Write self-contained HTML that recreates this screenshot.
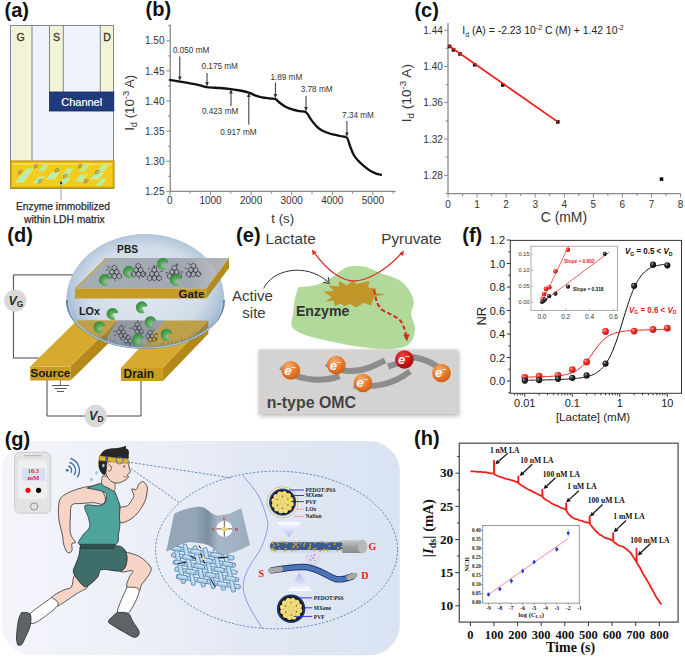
<!DOCTYPE html>
<html><head><meta charset="utf-8"><style>
html,body{margin:0;padding:0;background:#fff;}
svg{display:block;}
</style></head><body>
<svg width="685" height="657" viewBox="0 0 685 657" font-family="'Liberation Sans', sans-serif">
<rect width="685" height="657" fill="#fff"/>
<text x="4.5" y="16.9" font-size="20" fill="#111" text-anchor="start" font-weight="bold" font-family="'Liberation Sans', sans-serif" >(a)</text>
<rect x="10.5" y="25.5" width="103" height="163" fill="#f0f4fa" stroke="#7a8796" stroke-width="1"/>
<rect x="10.5" y="25.5" width="21.5" height="136" fill="#f3f4d4" stroke="#7a8796" stroke-width="1"/>
<rect x="49.5" y="25.5" width="13.8" height="67" fill="#f3f4d4" stroke="#7a8796" stroke-width="1"/>
<rect x="100.3" y="25.5" width="13.2" height="67" fill="#f3f4d4" stroke="#7a8796" stroke-width="1"/>
<rect x="49.5" y="92" width="64.3" height="19" fill="#1f3b7c" stroke="#13285a" stroke-width="0.8"/>
<text x="81.7" y="105.5" font-size="11" fill="#fff" text-anchor="middle" font-weight="normal" font-family="'Liberation Sans', sans-serif" stroke="#fff" stroke-width="0.2">Channel</text>
<text x="20.7" y="41.0" font-size="10.5" fill="#333" text-anchor="middle" font-weight="normal" font-family="'Liberation Sans', sans-serif" stroke="#333" stroke-width="0.3">G</text>
<text x="56.4" y="41.0" font-size="10.5" fill="#333" text-anchor="middle" font-weight="normal" font-family="'Liberation Sans', sans-serif" stroke="#333" stroke-width="0.3">S</text>
<text x="107.0" y="41.0" font-size="10.5" fill="#333" text-anchor="middle" font-weight="normal" font-family="'Liberation Sans', sans-serif" stroke="#333" stroke-width="0.3">D</text>
<rect x="10.4" y="160.9" width="103.7" height="27.3" fill="#d9ae06" stroke="#b08c10" stroke-width="0.8"/>
<rect x="12" y="162.8" width="100.5" height="23.6" fill="#f4cc1e"/>
<rect x="12" y="162.8" width="100.5" height="2" fill="#f8dc50"/>
<polygon points="15.0,182.5 21.0,175.5 29.0,175.5 23.0,182.5" fill="#c2f2b4"/><line x1="17.7" y1="182.5" x2="23.7" y2="175.5" stroke="#90d890" stroke-width="0.5"/><line x1="20.3" y1="182.5" x2="26.3" y2="175.5" stroke="#90d890" stroke-width="0.5"/><polygon points="21.0,175.5 27.0,168.5 34.0,168.5 28.0,175.5" fill="#c2f2b4"/><line x1="23.3" y1="175.5" x2="29.3" y2="168.5" stroke="#90d890" stroke-width="0.5"/><line x1="25.7" y1="175.5" x2="31.7" y2="168.5" stroke="#90d890" stroke-width="0.5"/><polygon points="33.0,183.5 39.0,176.5 45.0,176.5 39.0,183.5" fill="#c2f2b4"/><line x1="35.0" y1="183.5" x2="41.0" y2="176.5" stroke="#90d890" stroke-width="0.5"/><line x1="37.0" y1="183.5" x2="43.0" y2="176.5" stroke="#90d890" stroke-width="0.5"/><polygon points="38.0,171.5 44.0,164.5 49.0,164.5 43.0,171.5" fill="#c2f2b4"/><line x1="39.7" y1="171.5" x2="45.7" y2="164.5" stroke="#90d890" stroke-width="0.5"/><line x1="41.3" y1="171.5" x2="47.3" y2="164.5" stroke="#90d890" stroke-width="0.5"/><polygon points="46.0,179.5 52.0,172.5 60.0,172.5 54.0,179.5" fill="#c2f2b4"/><line x1="48.7" y1="179.5" x2="54.7" y2="172.5" stroke="#90d890" stroke-width="0.5"/><line x1="51.3" y1="179.5" x2="57.3" y2="172.5" stroke="#90d890" stroke-width="0.5"/><polygon points="58.0,184.5 64.0,177.5 71.0,177.5 65.0,184.5" fill="#c2f2b4"/><line x1="60.3" y1="184.5" x2="66.3" y2="177.5" stroke="#90d890" stroke-width="0.5"/><line x1="62.7" y1="184.5" x2="68.7" y2="177.5" stroke="#90d890" stroke-width="0.5"/><polygon points="62.0,175.5 68.0,168.5 74.0,168.5 68.0,175.5" fill="#c2f2b4"/><line x1="64.0" y1="175.5" x2="70.0" y2="168.5" stroke="#90d890" stroke-width="0.5"/><line x1="66.0" y1="175.5" x2="72.0" y2="168.5" stroke="#90d890" stroke-width="0.5"/><polygon points="75.0,181.5 81.0,174.5 88.0,174.5 82.0,181.5" fill="#c2f2b4"/><line x1="77.3" y1="181.5" x2="83.3" y2="174.5" stroke="#90d890" stroke-width="0.5"/><line x1="79.7" y1="181.5" x2="85.7" y2="174.5" stroke="#90d890" stroke-width="0.5"/><polygon points="79.0,171.5 85.0,164.5 90.0,164.5 84.0,171.5" fill="#c2f2b4"/><line x1="80.7" y1="171.5" x2="86.7" y2="164.5" stroke="#90d890" stroke-width="0.5"/><line x1="82.3" y1="171.5" x2="88.3" y2="164.5" stroke="#90d890" stroke-width="0.5"/><polygon points="90.0,179.5 96.0,172.5 104.0,172.5 98.0,179.5" fill="#c2f2b4"/><line x1="92.7" y1="179.5" x2="98.7" y2="172.5" stroke="#90d890" stroke-width="0.5"/><line x1="95.3" y1="179.5" x2="101.3" y2="172.5" stroke="#90d890" stroke-width="0.5"/><polygon points="97.0,171.5 103.0,164.5 109.0,164.5 103.0,171.5" fill="#c2f2b4"/><line x1="99.0" y1="171.5" x2="105.0" y2="164.5" stroke="#90d890" stroke-width="0.5"/><line x1="101.0" y1="171.5" x2="107.0" y2="164.5" stroke="#90d890" stroke-width="0.5"/><polygon points="96.0,185.5 102.0,178.5 107.0,178.5 101.0,185.5" fill="#c2f2b4"/><line x1="97.7" y1="185.5" x2="103.7" y2="178.5" stroke="#90d890" stroke-width="0.5"/><line x1="99.3" y1="185.5" x2="105.3" y2="178.5" stroke="#90d890" stroke-width="0.5"/>
<circle cx="20" cy="172" r="1.5" fill="none" stroke="#555" stroke-width="0.55"/><circle cx="21.5" cy="170.8" r="0.9" fill="#e8d070" stroke="#666" stroke-width="0.3"/><line x1="19" y1="173" x2="18" y2="175" stroke="#5a6a9a" stroke-width="0.6"/><circle cx="36" cy="166" r="1.5" fill="none" stroke="#555" stroke-width="0.55"/><circle cx="37.5" cy="164.8" r="0.9" fill="#e8d070" stroke="#666" stroke-width="0.3"/><line x1="35" y1="167" x2="34" y2="169" stroke="#5a6a9a" stroke-width="0.6"/><circle cx="40" cy="181" r="1.5" fill="none" stroke="#555" stroke-width="0.55"/><circle cx="41.5" cy="179.8" r="0.9" fill="#e8d070" stroke="#666" stroke-width="0.3"/><line x1="39" y1="182" x2="38" y2="184" stroke="#5a6a9a" stroke-width="0.6"/><circle cx="57" cy="170" r="1.5" fill="none" stroke="#555" stroke-width="0.55"/><circle cx="58.5" cy="168.8" r="0.9" fill="#e8d070" stroke="#666" stroke-width="0.3"/><line x1="56" y1="171" x2="55" y2="173" stroke="#5a6a9a" stroke-width="0.6"/><circle cx="65" cy="176" r="1.5" fill="none" stroke="#555" stroke-width="0.55"/><circle cx="66.5" cy="174.8" r="0.9" fill="#e8d070" stroke="#666" stroke-width="0.3"/><line x1="64" y1="177" x2="63" y2="179" stroke="#5a6a9a" stroke-width="0.6"/><circle cx="80" cy="166" r="1.5" fill="none" stroke="#555" stroke-width="0.55"/><circle cx="81.5" cy="164.8" r="0.9" fill="#e8d070" stroke="#666" stroke-width="0.3"/><line x1="79" y1="167" x2="78" y2="169" stroke="#5a6a9a" stroke-width="0.6"/><circle cx="86" cy="181" r="1.5" fill="none" stroke="#555" stroke-width="0.55"/><circle cx="87.5" cy="179.8" r="0.9" fill="#e8d070" stroke="#666" stroke-width="0.3"/><line x1="85" y1="182" x2="84" y2="184" stroke="#5a6a9a" stroke-width="0.6"/><circle cx="97" cy="172" r="1.5" fill="none" stroke="#555" stroke-width="0.55"/><circle cx="98.5" cy="170.8" r="0.9" fill="#e8d070" stroke="#666" stroke-width="0.3"/><line x1="96" y1="173" x2="95" y2="175" stroke="#5a6a9a" stroke-width="0.6"/>
<line x1="61.0" y1="182.0" x2="61.0" y2="200.0" stroke="#888" stroke-width="0.8" />
<polygon points="61.0,180.5 59.6,184.0 62.4,184.0" fill="#333" stroke="none" stroke-width="1" />
<text x="63.0" y="209.9" font-size="10.25" fill="#2a2a2a" text-anchor="middle" font-weight="normal" font-family="'Liberation Sans', sans-serif" stroke="#2a2a2a" stroke-width="0.25">Enzyme immobilized</text>
<text x="64.4" y="222.7" font-size="10.3" fill="#2a2a2a" text-anchor="middle" font-weight="normal" font-family="'Liberation Sans', sans-serif" stroke="#2a2a2a" stroke-width="0.25">within LDH matrix</text>
<text x="145.5" y="15.9" font-size="20" fill="#111" text-anchor="start" font-weight="bold" font-family="'Liberation Sans', sans-serif" >(b)</text>
<line x1="170.3" y1="24.5" x2="170.3" y2="191.3" stroke="#8a8a8a" stroke-width="1.3" />
<line x1="170.3" y1="191.3" x2="395.6" y2="191.3" stroke="#8a8a8a" stroke-width="1.3" />
<line x1="166.3" y1="191.3" x2="170.3" y2="191.3" stroke="#8a8a8a" stroke-width="1" />
<text x="164.5" y="194.9" font-size="10" fill="#333" text-anchor="end" font-weight="normal" font-family="'Liberation Sans', sans-serif" >1.25</text>
<line x1="167.8" y1="176.3" x2="170.3" y2="176.3" stroke="#8a8a8a" stroke-width="1" />
<line x1="166.3" y1="161.2" x2="170.3" y2="161.2" stroke="#8a8a8a" stroke-width="1" />
<text x="164.5" y="164.8" font-size="10" fill="#333" text-anchor="end" font-weight="normal" font-family="'Liberation Sans', sans-serif" >1.30</text>
<line x1="167.8" y1="146.2" x2="170.3" y2="146.2" stroke="#8a8a8a" stroke-width="1" />
<line x1="166.3" y1="131.1" x2="170.3" y2="131.1" stroke="#8a8a8a" stroke-width="1" />
<text x="164.5" y="134.7" font-size="10" fill="#333" text-anchor="end" font-weight="normal" font-family="'Liberation Sans', sans-serif" >1.35</text>
<line x1="167.8" y1="116.1" x2="170.3" y2="116.1" stroke="#8a8a8a" stroke-width="1" />
<line x1="166.3" y1="101.0" x2="170.3" y2="101.0" stroke="#8a8a8a" stroke-width="1" />
<text x="164.5" y="104.6" font-size="10" fill="#333" text-anchor="end" font-weight="normal" font-family="'Liberation Sans', sans-serif" >1.40</text>
<line x1="167.8" y1="86.0" x2="170.3" y2="86.0" stroke="#8a8a8a" stroke-width="1" />
<line x1="166.3" y1="70.9" x2="170.3" y2="70.9" stroke="#8a8a8a" stroke-width="1" />
<text x="164.5" y="74.5" font-size="10" fill="#333" text-anchor="end" font-weight="normal" font-family="'Liberation Sans', sans-serif" >1.45</text>
<line x1="167.8" y1="55.9" x2="170.3" y2="55.9" stroke="#8a8a8a" stroke-width="1" />
<line x1="166.3" y1="40.8" x2="170.3" y2="40.8" stroke="#8a8a8a" stroke-width="1" />
<text x="164.5" y="44.4" font-size="10" fill="#333" text-anchor="end" font-weight="normal" font-family="'Liberation Sans', sans-serif" >1.50</text>
<line x1="167.8" y1="25.8" x2="170.3" y2="25.8" stroke="#8a8a8a" stroke-width="1" />
<line x1="169.9" y1="191.3" x2="169.9" y2="195.3" stroke="#8a8a8a" stroke-width="1" />
<text x="169.9" y="204.3" font-size="10" fill="#333" text-anchor="middle" font-weight="normal" font-family="'Liberation Sans', sans-serif" >0</text>
<line x1="190.2" y1="191.3" x2="190.2" y2="193.8" stroke="#8a8a8a" stroke-width="1" />
<line x1="210.5" y1="191.3" x2="210.5" y2="195.3" stroke="#8a8a8a" stroke-width="1" />
<text x="210.5" y="204.3" font-size="10" fill="#333" text-anchor="middle" font-weight="normal" font-family="'Liberation Sans', sans-serif" >1000</text>
<line x1="230.8" y1="191.3" x2="230.8" y2="193.8" stroke="#8a8a8a" stroke-width="1" />
<line x1="251.1" y1="191.3" x2="251.1" y2="195.3" stroke="#8a8a8a" stroke-width="1" />
<text x="251.1" y="204.3" font-size="10" fill="#333" text-anchor="middle" font-weight="normal" font-family="'Liberation Sans', sans-serif" >2000</text>
<line x1="271.4" y1="191.3" x2="271.4" y2="193.8" stroke="#8a8a8a" stroke-width="1" />
<line x1="291.7" y1="191.3" x2="291.7" y2="195.3" stroke="#8a8a8a" stroke-width="1" />
<text x="291.7" y="204.3" font-size="10" fill="#333" text-anchor="middle" font-weight="normal" font-family="'Liberation Sans', sans-serif" >3000</text>
<line x1="312.0" y1="191.3" x2="312.0" y2="193.8" stroke="#8a8a8a" stroke-width="1" />
<line x1="332.3" y1="191.3" x2="332.3" y2="195.3" stroke="#8a8a8a" stroke-width="1" />
<text x="332.3" y="204.3" font-size="10" fill="#333" text-anchor="middle" font-weight="normal" font-family="'Liberation Sans', sans-serif" >4000</text>
<line x1="352.6" y1="191.3" x2="352.6" y2="193.8" stroke="#8a8a8a" stroke-width="1" />
<line x1="372.9" y1="191.3" x2="372.9" y2="195.3" stroke="#8a8a8a" stroke-width="1" />
<text x="372.9" y="204.3" font-size="10" fill="#333" text-anchor="middle" font-weight="normal" font-family="'Liberation Sans', sans-serif" >5000</text>
<line x1="393.2" y1="191.3" x2="393.2" y2="193.8" stroke="#8a8a8a" stroke-width="1" />
<text transform="translate(134,102.8) rotate(-90)" font-size="13.2" fill="#333" text-anchor="middle" font-family="'Liberation Sans', sans-serif">I<tspan font-size="9.4" dy="3">d</tspan><tspan dy="-3"> (10</tspan><tspan font-size="9.4" dy="-5">-3</tspan><tspan dy="5"> A)</tspan></text>
<text x="282.7" y="223.0" font-size="13.2" fill="#333" text-anchor="middle" font-weight="normal" font-family="'Liberation Sans', sans-serif" >t (s)</text>
<path d="M169.9,79.9 C171.6,80.2 176.5,81.0 179.8,81.6 C183.2,82.2 186.6,82.7 190.0,83.3 C193.4,83.9 197.2,84.6 200.0,85.3 C202.8,86.0 203.7,86.8 207.0,87.2 C210.3,87.7 216.0,87.7 220.0,88.0 C224.0,88.3 227.7,88.7 231.0,89.1 C234.3,89.5 237.0,89.9 240.0,90.5 C243.0,91.1 246.3,91.9 248.8,92.7 C251.3,93.5 252.8,94.5 255.0,95.3 C257.2,96.1 259.5,96.9 262.0,97.4 C264.5,97.9 267.8,98.2 270.0,98.5 C272.2,98.8 273.7,98.2 275.4,99.0 C277.1,99.8 278.2,101.7 280.0,103.0 C281.8,104.3 283.8,105.9 286.0,107.0 C288.2,108.1 290.7,109.0 293.0,109.7 C295.3,110.4 297.8,110.8 300.0,111.2 C302.2,111.6 304.3,111.1 306.0,112.2 C307.7,113.3 308.6,116.0 310.0,118.0 C311.4,120.0 312.9,122.2 314.5,124.0 C316.1,125.8 317.4,127.4 319.3,128.8 C321.2,130.2 323.8,131.4 326.0,132.3 C328.2,133.2 330.3,133.8 332.6,134.4 C334.9,135.0 337.6,135.4 340.0,136.0 C342.4,136.6 345.2,136.1 346.9,137.8 C348.6,139.5 348.9,143.2 350.0,146.0 C351.1,148.8 352.2,152.1 353.5,154.5 C354.8,156.9 356.1,158.4 358.0,160.5 C359.9,162.6 362.6,164.9 364.9,166.8 C367.2,168.7 369.8,170.6 372.0,171.8 C374.2,173.0 376.5,173.7 378.0,174.2 C379.5,174.7 380.5,174.7 381.0,174.8" fill="none" stroke="#111" stroke-width="2.3" stroke-linejoin="round" stroke-linecap="round"/>
<line x1="179.8" y1="56.5" x2="179.8" y2="78.0" stroke="#333" stroke-width="1" />
<polygon points="179.8,81.0 178.0,76.5 181.6,76.5" fill="#333" stroke="none" stroke-width="1" />
<line x1="207.0" y1="73.0" x2="207.0" y2="83.5" stroke="#333" stroke-width="1" />
<polygon points="207.0,86.5 205.2,82.0 208.8,82.0" fill="#333" stroke="none" stroke-width="1" />
<line x1="231.0" y1="106.0" x2="231.0" y2="92.0" stroke="#333" stroke-width="1" />
<polygon points="231.0,89.0 229.2,93.5 232.8,93.5" fill="#333" stroke="none" stroke-width="1" />
<line x1="248.8" y1="124.6" x2="248.8" y2="95.5" stroke="#333" stroke-width="1" />
<polygon points="248.8,92.5 247.0,97.0 250.6,97.0" fill="#333" stroke="none" stroke-width="1" />
<line x1="275.4" y1="82.5" x2="275.4" y2="95.5" stroke="#333" stroke-width="1" />
<polygon points="275.4,98.5 273.6,94.0 277.2,94.0" fill="#333" stroke="none" stroke-width="1" />
<line x1="306.0" y1="96.0" x2="306.0" y2="108.5" stroke="#333" stroke-width="1" />
<polygon points="306.0,111.5 304.2,107.0 307.8,107.0" fill="#333" stroke="none" stroke-width="1" />
<line x1="346.9" y1="121.0" x2="346.9" y2="134.0" stroke="#333" stroke-width="1" />
<polygon points="346.9,137.0 345.1,132.5 348.7,132.5" fill="#333" stroke="none" stroke-width="1" />
<text x="172.9" y="52.6" font-size="8.2" fill="#333" text-anchor="start" font-weight="normal" font-family="'Liberation Sans', sans-serif" >0.050 mM</text>
<text x="201.5" y="69.4" font-size="8.2" fill="#333" text-anchor="start" font-weight="normal" font-family="'Liberation Sans', sans-serif" >0.175 mM</text>
<text x="201.9" y="113.7" font-size="8.2" fill="#333" text-anchor="start" font-weight="normal" font-family="'Liberation Sans', sans-serif" >0.423 mM</text>
<text x="220.2" y="135.0" font-size="8.2" fill="#333" text-anchor="start" font-weight="normal" font-family="'Liberation Sans', sans-serif" >0.917 mM</text>
<text x="270.4" y="80.2" font-size="8.2" fill="#333" text-anchor="start" font-weight="normal" font-family="'Liberation Sans', sans-serif" >1.89 mM</text>
<text x="300.7" y="92.3" font-size="8.2" fill="#333" text-anchor="start" font-weight="normal" font-family="'Liberation Sans', sans-serif" >3.78 mM</text>
<text x="342.1" y="118.0" font-size="8.2" fill="#333" text-anchor="start" font-weight="normal" font-family="'Liberation Sans', sans-serif" >7.34 mM</text>
<text x="414.4" y="16.9" font-size="20" fill="#111" text-anchor="start" font-weight="bold" font-family="'Liberation Sans', sans-serif" >(c)</text>
<line x1="448.0" y1="23.0" x2="448.0" y2="193.6" stroke="#8a8a8a" stroke-width="1.3" />
<line x1="448.0" y1="193.6" x2="680.6" y2="193.6" stroke="#8a8a8a" stroke-width="1.3" />
<line x1="444.0" y1="30.2" x2="448.0" y2="30.2" stroke="#8a8a8a" stroke-width="1" />
<text x="442.8" y="33.8" font-size="10" fill="#333" text-anchor="end" font-weight="normal" font-family="'Liberation Sans', sans-serif" >1.44</text>
<line x1="444.0" y1="66.5" x2="448.0" y2="66.5" stroke="#8a8a8a" stroke-width="1" />
<text x="442.8" y="70.1" font-size="10" fill="#333" text-anchor="end" font-weight="normal" font-family="'Liberation Sans', sans-serif" >1.40</text>
<line x1="444.0" y1="102.7" x2="448.0" y2="102.7" stroke="#8a8a8a" stroke-width="1" />
<text x="442.8" y="106.3" font-size="10" fill="#333" text-anchor="end" font-weight="normal" font-family="'Liberation Sans', sans-serif" >1.36</text>
<line x1="444.0" y1="139.0" x2="448.0" y2="139.0" stroke="#8a8a8a" stroke-width="1" />
<text x="442.8" y="142.6" font-size="10" fill="#333" text-anchor="end" font-weight="normal" font-family="'Liberation Sans', sans-serif" >1.32</text>
<line x1="444.0" y1="175.3" x2="448.0" y2="175.3" stroke="#8a8a8a" stroke-width="1" />
<text x="442.8" y="178.9" font-size="10" fill="#333" text-anchor="end" font-weight="normal" font-family="'Liberation Sans', sans-serif" >1.28</text>
<line x1="445.5" y1="48.3" x2="448.0" y2="48.3" stroke="#8a8a8a" stroke-width="1" />
<line x1="445.5" y1="84.6" x2="448.0" y2="84.6" stroke="#8a8a8a" stroke-width="1" />
<line x1="445.5" y1="120.9" x2="448.0" y2="120.9" stroke="#8a8a8a" stroke-width="1" />
<line x1="445.5" y1="157.1" x2="448.0" y2="157.1" stroke="#8a8a8a" stroke-width="1" />
<line x1="445.5" y1="193.4" x2="448.0" y2="193.4" stroke="#8a8a8a" stroke-width="1" />
<line x1="448.0" y1="193.6" x2="448.0" y2="197.6" stroke="#8a8a8a" stroke-width="1" />
<text x="448.0" y="207.8" font-size="10" fill="#333" text-anchor="middle" font-weight="normal" font-family="'Liberation Sans', sans-serif" >0</text>
<line x1="462.5" y1="193.6" x2="462.5" y2="196.1" stroke="#8a8a8a" stroke-width="1" />
<line x1="477.1" y1="193.6" x2="477.1" y2="197.6" stroke="#8a8a8a" stroke-width="1" />
<text x="477.1" y="207.8" font-size="10" fill="#333" text-anchor="middle" font-weight="normal" font-family="'Liberation Sans', sans-serif" >1</text>
<line x1="491.6" y1="193.6" x2="491.6" y2="196.1" stroke="#8a8a8a" stroke-width="1" />
<line x1="506.1" y1="193.6" x2="506.1" y2="197.6" stroke="#8a8a8a" stroke-width="1" />
<text x="506.1" y="207.8" font-size="10" fill="#333" text-anchor="middle" font-weight="normal" font-family="'Liberation Sans', sans-serif" >2</text>
<line x1="520.7" y1="193.6" x2="520.7" y2="196.1" stroke="#8a8a8a" stroke-width="1" />
<line x1="535.2" y1="193.6" x2="535.2" y2="197.6" stroke="#8a8a8a" stroke-width="1" />
<text x="535.2" y="207.8" font-size="10" fill="#333" text-anchor="middle" font-weight="normal" font-family="'Liberation Sans', sans-serif" >3</text>
<line x1="549.7" y1="193.6" x2="549.7" y2="196.1" stroke="#8a8a8a" stroke-width="1" />
<line x1="564.3" y1="193.6" x2="564.3" y2="197.6" stroke="#8a8a8a" stroke-width="1" />
<text x="564.3" y="207.8" font-size="10" fill="#333" text-anchor="middle" font-weight="normal" font-family="'Liberation Sans', sans-serif" >4</text>
<line x1="578.8" y1="193.6" x2="578.8" y2="196.1" stroke="#8a8a8a" stroke-width="1" />
<line x1="593.4" y1="193.6" x2="593.4" y2="197.6" stroke="#8a8a8a" stroke-width="1" />
<text x="593.4" y="207.8" font-size="10" fill="#333" text-anchor="middle" font-weight="normal" font-family="'Liberation Sans', sans-serif" >5</text>
<line x1="607.9" y1="193.6" x2="607.9" y2="196.1" stroke="#8a8a8a" stroke-width="1" />
<line x1="622.4" y1="193.6" x2="622.4" y2="197.6" stroke="#8a8a8a" stroke-width="1" />
<text x="622.4" y="207.8" font-size="10" fill="#333" text-anchor="middle" font-weight="normal" font-family="'Liberation Sans', sans-serif" >6</text>
<line x1="637.0" y1="193.6" x2="637.0" y2="196.1" stroke="#8a8a8a" stroke-width="1" />
<line x1="651.5" y1="193.6" x2="651.5" y2="197.6" stroke="#8a8a8a" stroke-width="1" />
<text x="651.5" y="207.8" font-size="10" fill="#333" text-anchor="middle" font-weight="normal" font-family="'Liberation Sans', sans-serif" >7</text>
<line x1="666.0" y1="193.6" x2="666.0" y2="196.1" stroke="#8a8a8a" stroke-width="1" />
<line x1="680.6" y1="193.6" x2="680.6" y2="197.6" stroke="#8a8a8a" stroke-width="1" />
<text x="680.6" y="207.8" font-size="10" fill="#333" text-anchor="middle" font-weight="normal" font-family="'Liberation Sans', sans-serif" >8</text>
<text transform="translate(411,93.1) rotate(-90)" font-size="13.7" fill="#333" text-anchor="middle" font-family="'Liberation Sans', sans-serif">I<tspan font-size="9.8" dy="3">d</tspan><tspan dy="-3"> (10</tspan><tspan font-size="9.8" dy="-5.2">-3</tspan><tspan dy="5.2"> A)</tspan></text>
<text x="563.9" y="222.4" font-size="13.9" fill="#333" text-anchor="middle" font-weight="normal" font-family="'Liberation Sans', sans-serif" >C (mM)</text>
<text x="462.3" y="34.2" font-size="10.4" fill="#222" font-family="'Liberation Sans', sans-serif">I<tspan font-size="7" dy="2.5">d</tspan><tspan dy="-2.5"> (A) = -2.23 10</tspan><tspan font-size="7" dy="-4">-2</tspan><tspan dy="4"> C (M) + 1.42 10</tspan><tspan font-size="7" dy="-4">-2</tspan></text>
<rect x="447.8" y="44.6" width="3.6" height="3.6" fill="#111"/>
<rect x="451.7" y="48.1" width="3.6" height="3.6" fill="#111"/>
<rect x="458.2" y="52.1" width="3.6" height="3.6" fill="#111"/>
<rect x="472.9" y="63.0" width="3.6" height="3.6" fill="#111"/>
<rect x="501.0" y="83.2" width="3.6" height="3.6" fill="#111"/>
<rect x="556.0" y="120.1" width="3.6" height="3.6" fill="#111"/>
<rect x="659.7" y="177.3" width="3.6" height="3.6" fill="#111"/>
<line x1="448.5" y1="45.5" x2="557.8" y2="121.9" stroke="#ee1c18" stroke-width="1.7" />
<defs><radialGradient id="domeg" cx="0.5" cy="0.48" r="0.5"><stop offset="0" stop-color="#e2e9f1"/><stop offset="0.68" stop-color="#d2dde8"/><stop offset="0.88" stop-color="#b4c7db"/><stop offset="1" stop-color="#93aeca"/></radialGradient><linearGradient id="plate" x1="0" y1="0" x2="1" y2="0"><stop offset="0" stop-color="#9ca1a7"/><stop offset="0.75" stop-color="#979ca2"/><stop offset="0.88" stop-color="#adb0b3"/><stop offset="1" stop-color="#b5b7b9"/></linearGradient><radialGradient id="gpac" cx="0.6" cy="0.65" r="0.75"><stop offset="0" stop-color="#8fd08c"/><stop offset="0.45" stop-color="#55a85a"/><stop offset="1" stop-color="#2e7d3a"/></radialGradient><clipPath id="domeclip"><path d="M66.8,300 A78.6,65.5 0 0 1 224,300 A78.6,48 0 0 1 66.8,300 Z"/></clipPath></defs>
<text x="7.3" y="241.6" font-size="20" fill="#111" text-anchor="start" font-weight="bold" font-family="'Liberation Sans', sans-serif" >(d)</text>
<polyline points="89.0,274.9 13.4,274.9 13.4,358.0 38.6,358.0" fill="none" stroke="#444" stroke-width="1" stroke-linejoin="round" stroke-linecap="round" />
<polyline points="47.0,380.0 47.0,416.0 141.0,416.0 141.0,380.7" fill="none" stroke="#444" stroke-width="1" stroke-linejoin="round" stroke-linecap="round" />
<line x1="60.4" y1="380.0" x2="60.4" y2="385.5" stroke="#444" stroke-width="0.8" />
<line x1="52.0" y1="385.5" x2="69.0" y2="385.5" stroke="#444" stroke-width="0.9" />
<line x1="54.5" y1="388.5" x2="66.5" y2="388.5" stroke="#444" stroke-width="0.9" />
<line x1="57.0" y1="391.5" x2="64.0" y2="391.5" stroke="#444" stroke-width="0.9" />
<circle cx="15.3" cy="300.6" r="10.9" fill="#d9d9d9" stroke="#cfcfcf" stroke-width="0.5"/>
<text x="15.9" y="304.9" font-size="12.5" fill="#2a2a2a" text-anchor="middle" font-weight="bold" font-family="'Liberation Sans', sans-serif"><tspan font-style="italic">V</tspan><tspan font-size="8.5" dy="2">G</tspan></text>
<circle cx="95.7" cy="416" r="10.9" fill="#d9d9d9" stroke="#cfcfcf" stroke-width="0.5"/>
<text x="96.3" y="420.3" font-size="12.5" fill="#2a2a2a" text-anchor="middle" font-weight="bold" font-family="'Liberation Sans', sans-serif"><tspan font-style="italic">V</tspan><tspan font-size="8.5" dy="2">D</tspan></text>
<polygon points="30.2,366.6 70.5,366.6 117.5,320.3 77.2,320.3" fill="#d6aa2e" stroke="none" stroke-width="1" />
<polygon points="70.5,366.6 117.5,320.3 117.5,334.5 70.5,380.5" fill="#b3891a" stroke="none" stroke-width="1" />
<rect x="30.2" y="366.6" width="40.3" height="13.9" fill="#c99c22"/>
<polygon points="120.9,368.0 162.9,368.0 208.3,320.6 165.0,320.6" fill="#d6aa2e" stroke="none" stroke-width="1" />
<polygon points="162.9,368.0 208.3,320.6 208.3,333.8 162.9,381.0" fill="#b3891a" stroke="none" stroke-width="1" />
<rect x="120.9" y="368" width="42" height="13" fill="#c99c22"/>
<g clip-path="url(#domeclip)">
<rect x="60" y="230" width="170" height="125" fill="url(#domeg)" opacity="1"/>
<polygon points="40.0,360.0 80.0,360.0 117.5,320.3 77.2,320.3" fill="#bfa04a" stroke="none" stroke-width="1" />
<polygon points="80.0,360.0 117.5,320.3 117.5,334.5 90.0,360.0" fill="#a08433" stroke="none" stroke-width="1" />
<polygon points="130.0,360.0 172.0,360.0 208.3,320.6 165.0,320.6" fill="#bfa04a" stroke="none" stroke-width="1" />
<polygon points="172.0,360.0 208.3,320.6 208.3,333.8 180.0,360.0" fill="#a08433" stroke="none" stroke-width="1" />
<polygon points="117.5,320.3 165.0,320.6 140.0,350.0 100.0,350.0" fill="#949ba4" stroke="none" stroke-width="1" />
<polygon points="121.1,333.2 119.0,334.4 116.9,333.2 116.9,330.8 119.0,329.6 121.1,330.8" fill="none" stroke="#3a3f44" stroke-width="0.65"/><polygon points="125.2,333.2 123.2,334.4 121.1,333.2 121.1,330.8 123.2,329.6 125.2,330.8" fill="none" stroke="#3a3f44" stroke-width="0.65"/><polygon points="123.2,336.8 121.1,338.0 119.0,336.8 119.0,334.4 121.1,333.2 123.2,334.4" fill="none" stroke="#3a3f44" stroke-width="0.65"/><polygon points="127.3,336.8 125.2,338.0 123.2,336.8 123.2,334.4 125.2,333.2 127.3,334.4" fill="none" stroke="#3a3f44" stroke-width="0.65"/><polygon points="123.2,329.6 121.1,330.8 119.0,329.6 119.0,327.2 121.1,326.0 123.2,327.2" fill="none" stroke="#3a3f44" stroke-width="0.65"/><line x1="124.2" y1="327.4" x2="125.6" y2="325.4" stroke="#3a3f44" stroke-width="0.65"/><line x1="121.4" y1="326.5" x2="121.6" y2="324.1" stroke="#3a3f44" stroke-width="0.65"/><line x1="116.3" y1="334.6" x2="114.2" y2="335.8" stroke="#3a3f44" stroke-width="0.65"/><line x1="120.9" y1="337.5" x2="120.7" y2="339.9" stroke="#3a3f44" stroke-width="0.65"/><line x1="115.7" y1="331.6" x2="113.3" y2="331.4" stroke="#3a3f44" stroke-width="0.65"/>
<polygon points="137.1,329.2 135.0,330.4 132.9,329.2 132.9,326.8 135.0,325.6 137.1,326.8" fill="none" stroke="#3a3f44" stroke-width="0.65"/><polygon points="141.2,329.2 139.2,330.4 137.1,329.2 137.1,326.8 139.2,325.6 141.2,326.8" fill="none" stroke="#3a3f44" stroke-width="0.65"/><polygon points="139.2,332.8 137.1,334.0 135.0,332.8 135.0,330.4 137.1,329.2 139.2,330.4" fill="none" stroke="#3a3f44" stroke-width="0.65"/><polygon points="143.3,332.8 141.2,334.0 139.2,332.8 139.2,330.4 141.2,329.2 143.3,330.4" fill="none" stroke="#3a3f44" stroke-width="0.65"/><polygon points="139.2,325.6 137.1,326.8 135.0,325.6 135.0,323.2 137.1,322.0 139.2,323.2" fill="none" stroke="#3a3f44" stroke-width="0.65"/><line x1="140.8" y1="332.1" x2="142.4" y2="333.9" stroke="#3a3f44" stroke-width="0.65"/><line x1="140.3" y1="323.5" x2="141.7" y2="321.5" stroke="#3a3f44" stroke-width="0.65"/><line x1="137.6" y1="322.5" x2="137.8" y2="320.1" stroke="#3a3f44" stroke-width="0.65"/><line x1="137.0" y1="333.5" x2="136.9" y2="335.9" stroke="#3a3f44" stroke-width="0.65"/><line x1="131.6" y1="328.2" x2="129.2" y2="328.2" stroke="#3a3f44" stroke-width="0.65"/>
<polygon points="150.1,337.2 148.0,338.4 145.9,337.2 145.9,334.8 148.0,333.6 150.1,334.8" fill="none" stroke="#3a3f44" stroke-width="0.65"/><polygon points="154.2,337.2 152.2,338.4 150.1,337.2 150.1,334.8 152.2,333.6 154.2,334.8" fill="none" stroke="#3a3f44" stroke-width="0.65"/><polygon points="152.2,340.8 150.1,342.0 148.0,340.8 148.0,338.4 150.1,337.2 152.2,338.4" fill="none" stroke="#3a3f44" stroke-width="0.65"/><polygon points="156.3,340.8 154.2,342.0 152.2,340.8 152.2,338.4 154.2,337.2 156.3,338.4" fill="none" stroke="#3a3f44" stroke-width="0.65"/><polygon points="152.2,333.6 150.1,334.8 148.0,333.6 148.0,331.2 150.1,330.0 152.2,331.2" fill="none" stroke="#3a3f44" stroke-width="0.65"/><line x1="155.5" y1="334.5" x2="157.8" y2="333.8" stroke="#3a3f44" stroke-width="0.65"/><line x1="155.4" y1="334.2" x2="157.7" y2="333.4" stroke="#3a3f44" stroke-width="0.65"/><line x1="155.3" y1="337.9" x2="157.6" y2="338.8" stroke="#3a3f44" stroke-width="0.65"/><line x1="154.9" y1="338.8" x2="157.0" y2="340.0" stroke="#3a3f44" stroke-width="0.65"/><line x1="153.0" y1="331.3" x2="154.2" y2="329.2" stroke="#3a3f44" stroke-width="0.65"/>
<polygon points="128.1,342.2 126.0,343.4 123.9,342.2 123.9,339.8 126.0,338.6 128.1,339.8" fill="none" stroke="#3a3f44" stroke-width="0.65"/><polygon points="132.2,342.2 130.2,343.4 128.1,342.2 128.1,339.8 130.2,338.6 132.2,339.8" fill="none" stroke="#3a3f44" stroke-width="0.65"/><polygon points="130.2,345.8 128.1,347.0 126.0,345.8 126.0,343.4 128.1,342.2 130.2,343.4" fill="none" stroke="#3a3f44" stroke-width="0.65"/><polygon points="134.3,345.8 132.2,347.0 130.2,345.8 130.2,343.4 132.2,342.2 134.3,343.4" fill="none" stroke="#3a3f44" stroke-width="0.65"/><polygon points="130.2,338.6 128.1,339.8 126.0,338.6 126.0,336.2 128.1,335.0 130.2,336.2" fill="none" stroke="#3a3f44" stroke-width="0.65"/><line x1="128.6" y1="346.5" x2="128.8" y2="348.9" stroke="#3a3f44" stroke-width="0.65"/><line x1="122.9" y1="339.5" x2="120.5" y2="338.8" stroke="#3a3f44" stroke-width="0.65"/><line x1="124.4" y1="345.0" x2="122.7" y2="346.8" stroke="#3a3f44" stroke-width="0.65"/><line x1="123.8" y1="337.6" x2="121.9" y2="336.2" stroke="#3a3f44" stroke-width="0.65"/><line x1="124.3" y1="337.1" x2="122.6" y2="335.4" stroke="#3a3f44" stroke-width="0.65"/>
<line x1="100.0" y1="339.2" x2="99.9" y2="334.5" stroke="#4c6c8c" stroke-width="0.6" opacity="0.8"/><line x1="102.6" y1="340.3" x2="103.4" y2="335.9" stroke="#4c6c8c" stroke-width="0.6" opacity="0.8"/><line x1="105.2" y1="341.2" x2="105.2" y2="336.5" stroke="#4c6c8c" stroke-width="0.6" opacity="0.8"/><line x1="107.8" y1="342.2" x2="107.2" y2="337.6" stroke="#4c6c8c" stroke-width="0.6" opacity="0.8"/><line x1="110.4" y1="343.0" x2="110.7" y2="337.6" stroke="#4c6c8c" stroke-width="0.6" opacity="0.8"/><line x1="113.0" y1="343.7" x2="112.2" y2="339.8" stroke="#4c6c8c" stroke-width="0.6" opacity="0.8"/><line x1="115.6" y1="344.4" x2="114.8" y2="339.0" stroke="#4c6c8c" stroke-width="0.6" opacity="0.8"/><line x1="118.2" y1="345.0" x2="118.6" y2="341.9" stroke="#4c6c8c" stroke-width="0.6" opacity="0.8"/><line x1="120.8" y1="345.6" x2="121.8" y2="339.7" stroke="#4c6c8c" stroke-width="0.6" opacity="0.8"/><line x1="123.4" y1="346.1" x2="123.7" y2="341.2" stroke="#4c6c8c" stroke-width="0.6" opacity="0.8"/><line x1="126.0" y1="346.5" x2="125.3" y2="343.5" stroke="#4c6c8c" stroke-width="0.6" opacity="0.8"/><line x1="128.6" y1="346.9" x2="128.7" y2="343.7" stroke="#4c6c8c" stroke-width="0.6" opacity="0.8"/><line x1="131.2" y1="347.2" x2="130.6" y2="343.5" stroke="#4c6c8c" stroke-width="0.6" opacity="0.8"/><line x1="133.8" y1="347.5" x2="132.9" y2="343.1" stroke="#4c6c8c" stroke-width="0.6" opacity="0.8"/><line x1="136.4" y1="347.7" x2="136.3" y2="342.2" stroke="#4c6c8c" stroke-width="0.6" opacity="0.8"/><line x1="139.0" y1="347.8" x2="139.0" y2="342.9" stroke="#4c6c8c" stroke-width="0.6" opacity="0.8"/><line x1="141.6" y1="347.9" x2="141.6" y2="343.0" stroke="#4c6c8c" stroke-width="0.6" opacity="0.8"/><line x1="144.2" y1="348.0" x2="144.1" y2="344.2" stroke="#4c6c8c" stroke-width="0.6" opacity="0.8"/><line x1="146.8" y1="348.0" x2="147.8" y2="342.0" stroke="#4c6c8c" stroke-width="0.6" opacity="0.8"/><line x1="149.4" y1="347.9" x2="150.1" y2="342.8" stroke="#4c6c8c" stroke-width="0.6" opacity="0.8"/><line x1="152.0" y1="347.8" x2="151.6" y2="344.1" stroke="#4c6c8c" stroke-width="0.6" opacity="0.8"/><line x1="154.6" y1="347.7" x2="154.2" y2="344.5" stroke="#4c6c8c" stroke-width="0.6" opacity="0.8"/><line x1="157.2" y1="347.5" x2="157.7" y2="343.3" stroke="#4c6c8c" stroke-width="0.6" opacity="0.8"/><line x1="159.8" y1="347.2" x2="160.5" y2="343.0" stroke="#4c6c8c" stroke-width="0.6" opacity="0.8"/><line x1="162.4" y1="346.9" x2="163.3" y2="341.3" stroke="#4c6c8c" stroke-width="0.6" opacity="0.8"/><line x1="165.0" y1="346.5" x2="164.0" y2="342.9" stroke="#4c6c8c" stroke-width="0.6" opacity="0.8"/><line x1="167.6" y1="346.0" x2="168.4" y2="341.6" stroke="#4c6c8c" stroke-width="0.6" opacity="0.8"/><line x1="170.2" y1="345.5" x2="171.2" y2="341.4" stroke="#4c6c8c" stroke-width="0.6" opacity="0.8"/><line x1="172.8" y1="345.0" x2="171.9" y2="340.1" stroke="#4c6c8c" stroke-width="0.6" opacity="0.8"/><line x1="175.4" y1="344.4" x2="176.0" y2="340.6" stroke="#4c6c8c" stroke-width="0.6" opacity="0.8"/><line x1="178.0" y1="343.7" x2="177.2" y2="339.7" stroke="#4c6c8c" stroke-width="0.6" opacity="0.8"/><line x1="180.6" y1="342.9" x2="181.5" y2="337.6" stroke="#4c6c8c" stroke-width="0.6" opacity="0.8"/><line x1="183.2" y1="342.1" x2="182.4" y2="338.3" stroke="#4c6c8c" stroke-width="0.6" opacity="0.8"/><line x1="185.8" y1="341.2" x2="185.0" y2="338.0" stroke="#4c6c8c" stroke-width="0.6" opacity="0.8"/><line x1="188.4" y1="340.2" x2="189.0" y2="336.6" stroke="#4c6c8c" stroke-width="0.6" opacity="0.8"/><line x1="191.0" y1="339.1" x2="191.1" y2="334.8" stroke="#4c6c8c" stroke-width="0.6" opacity="0.8"/><line x1="193.6" y1="337.9" x2="193.0" y2="332.7" stroke="#4c6c8c" stroke-width="0.6" opacity="0.8"/><line x1="196.2" y1="336.6" x2="195.5" y2="331.7" stroke="#4c6c8c" stroke-width="0.6" opacity="0.8"/><line x1="198.8" y1="335.2" x2="198.0" y2="331.0" stroke="#4c6c8c" stroke-width="0.6" opacity="0.8"/><line x1="201.4" y1="333.7" x2="200.8" y2="329.9" stroke="#4c6c8c" stroke-width="0.6" opacity="0.8"/>
</g>
<path d="M66.8,300 A78.6,48 0 0 0 224,300" fill="none" stroke="#6486aa" stroke-width="2"/>
<path d="M69,303 A76.5,45 0 0 0 222,303" fill="none" stroke="#c4d4e4" stroke-width="1.2" opacity="0.8"/>
<path d="M66.8,300 A78.6,65.5 0 0 1 224,300" fill="none" stroke="#a8bdd2" stroke-width="0.8"/>
<polygon points="105.7,258.0 229.0,258.0 206.3,288.4 74.9,288.4" fill="url(#plate)" stroke="none" stroke-width="1" />
<polygon points="74.9,288.4 206.3,288.4 206.3,298.5 74.9,298.5" fill="#c69c24" stroke="none" stroke-width="1" />
<polygon points="206.3,288.4 229.0,258.0 229.0,268.0 206.3,298.5" fill="#b38c1c" stroke="none" stroke-width="1" />
<polygon points="74.9,288.4 105.7,258 107.5,258 77.5,288.4" fill="#c69c24"/>
<g clip-path="url(#domeclip)"><polygon points="105.7,258 229,258 206.3,288.4 74.9,288.4" fill="#c8d8ea" opacity="0.22"/></g>
<polygon points="114.3,273.4 112.0,274.7 109.7,273.4 109.7,270.6 112.0,269.3 114.3,270.6" fill="none" stroke="#33373b" stroke-width="0.7"/><polygon points="119.0,273.4 116.7,274.7 114.3,273.4 114.3,270.6 116.7,269.3 119.0,270.6" fill="none" stroke="#33373b" stroke-width="0.7"/><polygon points="116.7,277.4 114.3,278.8 112.0,277.4 112.0,274.7 114.3,273.4 116.7,274.7" fill="none" stroke="#33373b" stroke-width="0.7"/><polygon points="121.4,277.4 119.0,278.8 116.7,277.4 116.7,274.7 119.0,273.4 121.4,274.7" fill="none" stroke="#33373b" stroke-width="0.7"/><polygon points="116.7,269.3 114.3,270.6 112.0,269.3 112.0,266.6 114.3,265.2 116.7,266.6" fill="none" stroke="#33373b" stroke-width="0.7"/><polygon points="112.0,277.4 109.7,278.8 107.3,277.4 107.3,274.7 109.7,273.4 112.0,274.7" fill="none" stroke="#33373b" stroke-width="0.7"/><line x1="114.9" y1="278.2" x2="115.1" y2="280.9" stroke="#33373b" stroke-width="0.7"/><line x1="108.5" y1="270.3" x2="105.9" y2="269.6" stroke="#33373b" stroke-width="0.7"/><line x1="110.2" y1="276.5" x2="108.3" y2="278.5" stroke="#33373b" stroke-width="0.7"/><line x1="109.5" y1="268.2" x2="107.4" y2="266.6" stroke="#33373b" stroke-width="0.7"/><line x1="110.1" y1="267.6" x2="108.2" y2="265.7" stroke="#33373b" stroke-width="0.7"/>
<polygon points="138.3,271.4 136.0,272.7 133.7,271.4 133.7,268.6 136.0,267.3 138.3,268.6" fill="none" stroke="#33373b" stroke-width="0.7"/><polygon points="143.0,271.4 140.7,272.7 138.3,271.4 138.3,268.6 140.7,267.3 143.0,268.6" fill="none" stroke="#33373b" stroke-width="0.7"/><polygon points="140.7,275.4 138.3,276.8 136.0,275.4 136.0,272.7 138.3,271.4 140.7,272.7" fill="none" stroke="#33373b" stroke-width="0.7"/><polygon points="145.4,275.4 143.0,276.8 140.7,275.4 140.7,272.7 143.0,271.4 145.4,272.7" fill="none" stroke="#33373b" stroke-width="0.7"/><polygon points="140.7,267.3 138.3,268.6 136.0,267.3 136.0,264.6 138.3,263.2 140.7,264.6" fill="none" stroke="#33373b" stroke-width="0.7"/><polygon points="136.0,275.4 133.7,276.8 131.3,275.4 131.3,272.7 133.7,271.4 136.0,272.7" fill="none" stroke="#33373b" stroke-width="0.7"/><line x1="139.0" y1="276.2" x2="139.2" y2="278.9" stroke="#33373b" stroke-width="0.7"/><line x1="143.4" y1="273.7" x2="145.5" y2="275.4" stroke="#33373b" stroke-width="0.7"/><line x1="133.5" y1="273.8" x2="131.4" y2="275.4" stroke="#33373b" stroke-width="0.7"/><line x1="141.9" y1="275.1" x2="143.4" y2="277.4" stroke="#33373b" stroke-width="0.7"/><line x1="144.1" y1="272.5" x2="146.6" y2="273.6" stroke="#33373b" stroke-width="0.7"/>
<polygon points="154.3,275.4 152.0,276.7 149.7,275.4 149.7,272.6 152.0,271.3 154.3,272.6" fill="none" stroke="#33373b" stroke-width="0.7"/><polygon points="159.0,275.4 156.7,276.7 154.3,275.4 154.3,272.6 156.7,271.3 159.0,272.6" fill="none" stroke="#33373b" stroke-width="0.7"/><polygon points="156.7,279.4 154.3,280.8 152.0,279.4 152.0,276.7 154.3,275.4 156.7,276.7" fill="none" stroke="#33373b" stroke-width="0.7"/><polygon points="161.4,279.4 159.0,280.8 156.7,279.4 156.7,276.7 159.0,275.4 161.4,276.7" fill="none" stroke="#33373b" stroke-width="0.7"/><polygon points="156.7,271.3 154.3,272.6 152.0,271.3 152.0,268.6 154.3,267.2 156.7,268.6" fill="none" stroke="#33373b" stroke-width="0.7"/><polygon points="152.0,279.4 149.7,280.8 147.3,279.4 147.3,276.7 149.7,275.4 152.0,276.7" fill="none" stroke="#33373b" stroke-width="0.7"/><line x1="150.0" y1="269.7" x2="148.0" y2="267.8" stroke="#33373b" stroke-width="0.7"/><line x1="154.1" y1="267.8" x2="154.0" y2="265.1" stroke="#33373b" stroke-width="0.7"/><line x1="156.2" y1="268.0" x2="156.9" y2="265.4" stroke="#33373b" stroke-width="0.7"/><line x1="160.2" y1="271.8" x2="162.8" y2="270.8" stroke="#33373b" stroke-width="0.7"/><line x1="154.0" y1="267.8" x2="153.9" y2="265.1" stroke="#33373b" stroke-width="0.7"/>
<polygon points="174.3,273.4 172.0,274.7 169.7,273.4 169.7,270.6 172.0,269.3 174.3,270.6" fill="none" stroke="#33373b" stroke-width="0.7"/><polygon points="179.0,273.4 176.7,274.7 174.3,273.4 174.3,270.6 176.7,269.3 179.0,270.6" fill="none" stroke="#33373b" stroke-width="0.7"/><polygon points="176.7,277.4 174.3,278.8 172.0,277.4 172.0,274.7 174.3,273.4 176.7,274.7" fill="none" stroke="#33373b" stroke-width="0.7"/><polygon points="181.4,277.4 179.0,278.8 176.7,277.4 176.7,274.7 179.0,273.4 181.4,274.7" fill="none" stroke="#33373b" stroke-width="0.7"/><polygon points="176.7,269.3 174.3,270.6 172.0,269.3 172.0,266.6 174.3,265.2 176.7,266.6" fill="none" stroke="#33373b" stroke-width="0.7"/><polygon points="172.0,277.4 169.7,278.8 167.3,277.4 167.3,274.7 169.7,273.4 172.0,274.7" fill="none" stroke="#33373b" stroke-width="0.7"/><line x1="176.1" y1="266.0" x2="176.8" y2="263.4" stroke="#33373b" stroke-width="0.7"/><line x1="177.1" y1="266.4" x2="178.3" y2="264.0" stroke="#33373b" stroke-width="0.7"/><line x1="168.2" y1="272.6" x2="165.6" y2="272.8" stroke="#33373b" stroke-width="0.7"/><line x1="174.0" y1="278.2" x2="173.8" y2="280.9" stroke="#33373b" stroke-width="0.7"/><line x1="180.6" y1="272.0" x2="183.3" y2="272.0" stroke="#33373b" stroke-width="0.7"/>
<polygon points="193.3,271.4 191.0,272.7 188.7,271.4 188.7,268.6 191.0,267.3 193.3,268.6" fill="none" stroke="#33373b" stroke-width="0.7"/><polygon points="198.0,271.4 195.7,272.7 193.3,271.4 193.3,268.6 195.7,267.3 198.0,268.6" fill="none" stroke="#33373b" stroke-width="0.7"/><polygon points="195.7,275.4 193.3,276.8 191.0,275.4 191.0,272.7 193.3,271.4 195.7,272.7" fill="none" stroke="#33373b" stroke-width="0.7"/><polygon points="200.4,275.4 198.0,276.8 195.7,275.4 195.7,272.7 198.0,271.4 200.4,272.7" fill="none" stroke="#33373b" stroke-width="0.7"/><polygon points="195.7,267.3 193.3,268.6 191.0,267.3 191.0,264.6 193.3,263.2 195.7,264.6" fill="none" stroke="#33373b" stroke-width="0.7"/><polygon points="191.0,275.4 188.7,276.8 186.3,275.4 186.3,272.7 188.7,271.4 191.0,272.7" fill="none" stroke="#33373b" stroke-width="0.7"/><line x1="190.7" y1="275.6" x2="189.4" y2="278.0" stroke="#33373b" stroke-width="0.7"/><line x1="197.1" y1="275.0" x2="198.6" y2="277.2" stroke="#33373b" stroke-width="0.7"/><line x1="189.8" y1="265.0" x2="188.2" y2="262.8" stroke="#33373b" stroke-width="0.7"/><line x1="199.0" y1="272.7" x2="201.4" y2="273.9" stroke="#33373b" stroke-width="0.7"/><line x1="187.4" y1="268.6" x2="184.7" y2="268.0" stroke="#33373b" stroke-width="0.7"/>
<path d="M105.0,280.0 L110.8,278.7 A6,6 0 1 0 107.7,285.3 Z" fill="url(#gpac)"/>
<path d="M129.0,272.0 L134.8,270.7 A6,6 0 1 0 131.7,277.3 Z" fill="url(#gpac)"/>
<path d="M163.0,264.0 L168.8,262.7 A6,6 0 1 0 165.7,269.3 Z" fill="url(#gpac)"/>
<path d="M176.0,280.0 L181.8,278.7 A6,6 0 1 0 178.7,285.3 Z" fill="url(#gpac)"/>
<path d="M112.6,314.0 L118.4,312.7 A6,6 0 1 0 115.3,319.3 Z" fill="url(#gpac)"/>
<path d="M141.9,307.4 L147.7,306.1 A6,6 0 1 0 144.6,312.7 Z" fill="url(#gpac)"/>
<path d="M99.7,327.2 L105.5,325.9 A6,6 0 1 0 102.4,332.5 Z" fill="url(#gpac)"/>
<path d="M150.6,322.3 L156.4,321.0 A6,6 0 1 0 153.3,327.6 Z" fill="url(#gpac)"/>
<path d="M138.2,339.6 L144.0,338.3 A6,6 0 1 0 140.9,344.9 Z" fill="url(#gpac)"/>
<path d="M166.7,334.7 L172.5,333.4 A6,6 0 1 0 169.4,340.0 Z" fill="url(#gpac)"/>
<text x="117.1" y="252.9" font-size="10.2" fill="#222" text-anchor="start" font-weight="bold" font-family="'Liberation Sans', sans-serif" >PBS</text>
<text x="178.6" y="297.6" font-size="11.6" fill="#1a1a1a" text-anchor="start" font-weight="bold" font-family="'Liberation Sans', sans-serif" >Gate</text>
<text x="78.9" y="314.8" font-size="10.8" fill="#1a1a1a" text-anchor="start" font-weight="bold" font-family="'Liberation Sans', sans-serif" >LOx</text>
<text x="30.3" y="376.8" font-size="11.8" fill="#1a1a1a" text-anchor="start" font-weight="bold" font-family="'Liberation Sans', sans-serif" >Source</text>
<text x="123.6" y="378.0" font-size="11.9" fill="#1a1a1a" text-anchor="start" font-weight="bold" font-family="'Liberation Sans', sans-serif" >Drain</text>
<text x="236.1" y="241.9" font-size="20" fill="#111" text-anchor="start" font-weight="bold" font-family="'Liberation Sans', sans-serif" >(e)</text>
<text x="265.5" y="243.9" font-size="15.3" fill="#3a3a3a" text-anchor="start" font-weight="normal" font-family="'Liberation Sans', sans-serif" >Lactate</text>
<text x="381.2" y="243.9" font-size="15.3" fill="#3a3a3a" text-anchor="start" font-weight="normal" font-family="'Liberation Sans', sans-serif" >Pyruvate</text>
<defs><filter id="blr" x="-10%" y="-10%" width="120%" height="120%"><feGaussianBlur stdDeviation="2"/></filter><radialGradient id="eo" cx="0.4" cy="0.3" r="0.75"><stop offset="0" stop-color="#f8b070"/><stop offset="0.55" stop-color="#e67a2c"/><stop offset="1" stop-color="#c85c14"/></radialGradient><radialGradient id="er" cx="0.4" cy="0.3" r="0.75"><stop offset="0" stop-color="#f04040"/><stop offset="0.6" stop-color="#c81418"/><stop offset="1" stop-color="#980c10"/></radialGradient></defs>
<rect x="259.5" y="351" width="199.5" height="65" fill="#b9b6b6" filter="url(#blr)"/>
<rect x="258.5" y="349.5" width="199" height="64.5" fill="#d5d2d2"/>
<path d="M281.4,366.7 C292,378 318,384 339.5,376.1" fill="none" stroke="#8e8c8c" stroke-width="6" stroke-linecap="butt"/>
<path d="M326.9,363.5 C335,372 355,373 369.3,367.6 C377,364.5 382,362 385,360.4" fill="none" stroke="#8e8c8c" stroke-width="6" stroke-linecap="butt"/>
<path d="M388.1,366.7 L397.5,363.5" fill="none" stroke="#8e8c8c" stroke-width="6" stroke-linecap="butt"/>
<path d="M403.8,357.3 C415,356 430,360 441.5,369.8" fill="none" stroke="#8e8c8c" stroke-width="6" stroke-linecap="butt"/>
<path d="M353.6,385.5 C370,387 390,387 410.1,371.4" fill="none" stroke="#8e8c8c" stroke-width="6" stroke-linecap="butt"/>
<circle cx="290.8" cy="370.4" r="9.3" fill="url(#eo)"/>
<text x="290.2" y="374.8" font-size="13" fill="#fff" text-anchor="middle" font-style="italic" font-weight="bold" font-family="'Liberation Sans', sans-serif">e<tspan font-size="8" dy="-6" font-style="normal">–</tspan></text>
<circle cx="336.3" cy="365.1" r="9.3" fill="url(#eo)"/>
<text x="335.7" y="369.5" font-size="13" fill="#fff" text-anchor="middle" font-style="italic" font-weight="bold" font-family="'Liberation Sans', sans-serif">e<tspan font-size="8" dy="-6" font-style="normal">–</tspan></text>
<circle cx="363" cy="383" r="9.3" fill="url(#eo)"/>
<text x="362.4" y="387.4" font-size="13" fill="#fff" text-anchor="middle" font-style="italic" font-weight="bold" font-family="'Liberation Sans', sans-serif">e<tspan font-size="8" dy="-6" font-style="normal">–</tspan></text>
<circle cx="404.4" cy="359.5" r="9.3" fill="url(#er)"/>
<text x="403.8" y="363.9" font-size="13" fill="#fff" text-anchor="middle" font-style="italic" font-weight="bold" font-family="'Liberation Sans', sans-serif">e<tspan font-size="8" dy="-6" font-style="normal">–</tspan></text>
<circle cx="441.5" cy="373" r="9.3" fill="url(#eo)"/>
<text x="440.9" y="377.4" font-size="13" fill="#fff" text-anchor="middle" font-style="italic" font-weight="bold" font-family="'Liberation Sans', sans-serif">e<tspan font-size="8" dy="-6" font-style="normal">–</tspan></text>
<path d="M298.4,287.2 C301.5,286.8 311.4,286.4 317.0,284.7 C322.6,283.0 327.3,279.9 331.9,277.2 C336.4,274.5 340.6,270.4 344.3,268.5 C348.0,266.6 350.5,266.3 354.2,266.1 C357.9,265.9 362.1,266.1 366.7,267.3 C371.2,268.5 376.1,271.4 381.5,273.5 C386.9,275.6 394.3,277.0 398.9,279.7 C403.4,282.4 406.3,285.9 408.8,289.6 C411.3,293.3 413.4,297.9 413.8,302.0 C414.2,306.1 411.1,309.9 411.3,314.5 C411.5,319.1 415.4,324.4 415.0,329.4 C414.6,334.3 413.1,340.9 408.8,344.2 C404.5,347.5 397.3,348.8 389.0,349.2 C380.7,349.6 368.7,347.9 359.2,346.7 C349.7,345.5 340.6,343.6 331.9,341.8 C323.2,340.0 313.7,338.1 307.1,335.6 C300.5,333.1 294.5,330.8 292.2,326.9 C289.9,323.0 293.0,316.6 293.4,312.0 C293.8,307.4 293.9,303.7 294.7,299.6 C295.5,295.5 297.8,289.3 298.4,287.2 Z" fill="#b0d99a"/>
<polygon points="323.2,291.6 333.7,291.0 328.4,285.2 338.9,286.4 338.9,281.1 346.5,285.2 352.4,281.1 357.0,284.0 369.3,281.1 368.1,287.5 376.9,288.7 373.4,292.8 386.2,294.5 374.6,296.3 373.4,298.6 371.1,305.6 364.0,302.7 355.9,307.4 350.0,303.9 344.2,306.2 340.7,303.3 334.9,306.2 333.7,300.4 325.5,301.5 331.4,296.9" fill="#c0952a" stroke="none" stroke-width="1" />
<text x="295.9" y="315.7" font-size="14.2" fill="#333" text-anchor="start" font-weight="bold" font-family="'Liberation Sans', sans-serif" >Enzyme</text>
<text x="252.5" y="300.8" font-size="15" fill="#3a3a3a" text-anchor="middle" font-weight="normal" font-family="'Liberation Sans', sans-serif" >Active</text>
<text x="254.0" y="317.8" font-size="15" fill="#3a3a3a" text-anchor="middle" font-weight="normal" font-family="'Liberation Sans', sans-serif" >site</text>
<path d="M263.7,288.4 C272,270 305,262 327.5,281.5" fill="none" stroke="#333" stroke-width="1"/>
<polyline points="323.5,282.2 329.2,283.6 328.4,277.6" fill="none" stroke="#333" stroke-width="1" stroke-linejoin="round" stroke-linecap="round" />
<path d="M313.5,251.5 C330,275 345,281 354.2,281 C365,281 385,272 402.5,252.2" fill="none" stroke="#d8312c" stroke-width="1.3"/>
<polygon points="312.0,249.4 312.6,255.2 316.6,252.4" fill="#d8312c" stroke="none" stroke-width="1" />
<polygon points="403.9,250.4 399.2,253.6 403.2,256.0" fill="#d8312c" stroke="none" stroke-width="1" />
<path d="M374.1,289.6 C376,300 377,307 384,311 C392,315 399,318 401.4,322 C404,327 405.5,331 406.2,336" fill="none" stroke="#d42a26" stroke-width="2" stroke-dasharray="4.5,2.5"/>
<polygon points="406.9,341.5 403.2,334.5 409.6,334.3" fill="#d42a26" stroke="none" stroke-width="1" />
<text x="266.8" y="408.4" font-size="15.9" fill="#444" text-anchor="start" font-weight="bold" font-family="'Liberation Sans', sans-serif" >n-type OMC</text>
<text x="462.3" y="241.9" font-size="20" fill="#111" text-anchor="start" font-weight="bold" font-family="'Liberation Sans', sans-serif" >(f)</text>
<rect x="510.3" y="240.4" width="171.2" height="152.9" fill="none" stroke="#333" stroke-width="1"/>
<line x1="506.8" y1="381.0" x2="510.3" y2="381.0" stroke="#333" stroke-width="1" />
<text x="505.0" y="385.0" font-size="11" fill="#222" text-anchor="end" font-weight="normal" font-family="'Liberation Sans', sans-serif" >0.0</text>
<line x1="508.3" y1="369.2" x2="510.3" y2="369.2" stroke="#333" stroke-width="1" />
<line x1="506.8" y1="357.5" x2="510.3" y2="357.5" stroke="#333" stroke-width="1" />
<text x="505.0" y="361.5" font-size="11" fill="#222" text-anchor="end" font-weight="normal" font-family="'Liberation Sans', sans-serif" >0.2</text>
<line x1="508.3" y1="345.8" x2="510.3" y2="345.8" stroke="#333" stroke-width="1" />
<line x1="506.8" y1="334.0" x2="510.3" y2="334.0" stroke="#333" stroke-width="1" />
<text x="505.0" y="338.0" font-size="11" fill="#222" text-anchor="end" font-weight="normal" font-family="'Liberation Sans', sans-serif" >0.4</text>
<line x1="508.3" y1="322.2" x2="510.3" y2="322.2" stroke="#333" stroke-width="1" />
<line x1="506.8" y1="310.5" x2="510.3" y2="310.5" stroke="#333" stroke-width="1" />
<text x="505.0" y="314.5" font-size="11" fill="#222" text-anchor="end" font-weight="normal" font-family="'Liberation Sans', sans-serif" >0.6</text>
<line x1="508.3" y1="298.8" x2="510.3" y2="298.8" stroke="#333" stroke-width="1" />
<line x1="506.8" y1="287.0" x2="510.3" y2="287.0" stroke="#333" stroke-width="1" />
<text x="505.0" y="291.0" font-size="11" fill="#222" text-anchor="end" font-weight="normal" font-family="'Liberation Sans', sans-serif" >0.8</text>
<line x1="508.3" y1="275.2" x2="510.3" y2="275.2" stroke="#333" stroke-width="1" />
<line x1="506.8" y1="263.5" x2="510.3" y2="263.5" stroke="#333" stroke-width="1" />
<text x="505.0" y="267.5" font-size="11" fill="#222" text-anchor="end" font-weight="normal" font-family="'Liberation Sans', sans-serif" >1.0</text>
<line x1="508.3" y1="251.8" x2="510.3" y2="251.8" stroke="#333" stroke-width="1" />
<line x1="506.8" y1="240.0" x2="510.3" y2="240.0" stroke="#333" stroke-width="1" />
<text x="505.0" y="244.0" font-size="11" fill="#222" text-anchor="end" font-weight="normal" font-family="'Liberation Sans', sans-serif" >1.2</text>
<line x1="508.3" y1="392.8" x2="510.3" y2="392.8" stroke="#333" stroke-width="1" />
<line x1="524.8" y1="393.3" x2="524.8" y2="396.8" stroke="#333" stroke-width="1" />
<text x="524.8" y="406.5" font-size="11" fill="#222" text-anchor="middle" font-weight="normal" font-family="'Liberation Sans', sans-serif" >0.01</text>
<line x1="539.1" y1="393.3" x2="539.1" y2="395.3" stroke="#333" stroke-width="1" />
<line x1="547.5" y1="393.3" x2="547.5" y2="395.3" stroke="#333" stroke-width="1" />
<line x1="553.4" y1="393.3" x2="553.4" y2="395.3" stroke="#333" stroke-width="1" />
<line x1="558.0" y1="393.3" x2="558.0" y2="395.3" stroke="#333" stroke-width="1" />
<line x1="561.8" y1="393.3" x2="561.8" y2="395.3" stroke="#333" stroke-width="1" />
<line x1="564.9" y1="393.3" x2="564.9" y2="395.3" stroke="#333" stroke-width="1" />
<line x1="567.7" y1="393.3" x2="567.7" y2="395.3" stroke="#333" stroke-width="1" />
<line x1="570.1" y1="393.3" x2="570.1" y2="395.3" stroke="#333" stroke-width="1" />
<line x1="572.3" y1="393.3" x2="572.3" y2="396.8" stroke="#333" stroke-width="1" />
<text x="572.3" y="406.5" font-size="11" fill="#222" text-anchor="middle" font-weight="normal" font-family="'Liberation Sans', sans-serif" >0.1</text>
<line x1="586.6" y1="393.3" x2="586.6" y2="395.3" stroke="#333" stroke-width="1" />
<line x1="595.0" y1="393.3" x2="595.0" y2="395.3" stroke="#333" stroke-width="1" />
<line x1="600.9" y1="393.3" x2="600.9" y2="395.3" stroke="#333" stroke-width="1" />
<line x1="605.5" y1="393.3" x2="605.5" y2="395.3" stroke="#333" stroke-width="1" />
<line x1="609.3" y1="393.3" x2="609.3" y2="395.3" stroke="#333" stroke-width="1" />
<line x1="612.4" y1="393.3" x2="612.4" y2="395.3" stroke="#333" stroke-width="1" />
<line x1="615.2" y1="393.3" x2="615.2" y2="395.3" stroke="#333" stroke-width="1" />
<line x1="617.6" y1="393.3" x2="617.6" y2="395.3" stroke="#333" stroke-width="1" />
<line x1="619.8" y1="393.3" x2="619.8" y2="396.8" stroke="#333" stroke-width="1" />
<text x="619.8" y="406.5" font-size="11" fill="#222" text-anchor="middle" font-weight="normal" font-family="'Liberation Sans', sans-serif" >1</text>
<line x1="634.1" y1="393.3" x2="634.1" y2="395.3" stroke="#333" stroke-width="1" />
<line x1="642.5" y1="393.3" x2="642.5" y2="395.3" stroke="#333" stroke-width="1" />
<line x1="648.4" y1="393.3" x2="648.4" y2="395.3" stroke="#333" stroke-width="1" />
<line x1="653.0" y1="393.3" x2="653.0" y2="395.3" stroke="#333" stroke-width="1" />
<line x1="656.8" y1="393.3" x2="656.8" y2="395.3" stroke="#333" stroke-width="1" />
<line x1="659.9" y1="393.3" x2="659.9" y2="395.3" stroke="#333" stroke-width="1" />
<line x1="662.7" y1="393.3" x2="662.7" y2="395.3" stroke="#333" stroke-width="1" />
<line x1="665.1" y1="393.3" x2="665.1" y2="395.3" stroke="#333" stroke-width="1" />
<line x1="667.3" y1="393.3" x2="667.3" y2="396.8" stroke="#333" stroke-width="1" />
<text x="667.3" y="406.5" font-size="11" fill="#222" text-anchor="middle" font-weight="normal" font-family="'Liberation Sans', sans-serif" >10</text>
<line x1="514.3" y1="393.3" x2="514.3" y2="395.3" stroke="#333" stroke-width="1" />
<line x1="517.4" y1="393.3" x2="517.4" y2="395.3" stroke="#333" stroke-width="1" />
<line x1="520.2" y1="393.3" x2="520.2" y2="395.3" stroke="#333" stroke-width="1" />
<line x1="522.6" y1="393.3" x2="522.6" y2="395.3" stroke="#333" stroke-width="1" />
<text x="593.0" y="421.0" font-size="11.5" fill="#222" text-anchor="middle" font-weight="normal" font-family="'Liberation Sans', sans-serif" >[Lactate] (mM)</text>
<text transform="translate(485.6,316.2) rotate(-90)" font-size="13" fill="#222" text-anchor="middle" font-family="'Liberation Sans', sans-serif">NR</text>
<polyline points="524.8,380.2 526.0,380.2 527.2,380.2 528.4,380.2 529.6,380.2 530.8,380.2 532.0,380.2 533.2,380.1 534.4,380.1 535.6,380.1 536.8,380.1 538.0,380.1 539.2,380.1 540.4,380.0 541.6,380.0 542.8,380.0 544.0,380.0 545.2,379.9 546.4,379.9 547.6,379.9 548.7,379.9 549.9,379.8 551.1,379.8 552.3,379.8 553.5,379.7 554.7,379.7 555.9,379.6 557.1,379.6 558.3,379.6 559.5,379.5 560.7,379.5 561.9,379.4 563.1,379.3 564.3,379.3 565.5,379.2 566.7,379.1 567.9,379.1 569.1,379.0 570.3,378.9 571.5,378.8 572.7,378.7 573.9,378.6 575.1,378.5 576.3,378.4 577.5,378.2 578.7,378.1 579.9,377.9 581.1,377.8 582.3,377.6 583.5,377.4 584.7,377.1 585.9,376.9 587.1,376.6 588.3,376.3 589.5,375.9 590.7,375.5 591.9,375.1 593.1,374.6 594.3,374.0 595.5,373.4 596.6,372.7 597.8,371.9 599.0,371.0 600.2,370.0 601.4,368.9 602.6,367.7 603.8,366.4 605.0,364.8 606.2,363.1 607.4,361.3 608.6,359.2 609.8,357.0 611.0,354.5 612.2,351.9 613.4,349.0 614.6,345.9 615.8,342.7 617.0,339.2 618.2,335.6 619.4,331.9 620.6,328.0 621.8,324.1 623.0,320.2 624.2,316.2 625.4,312.3 626.6,308.5 627.8,304.8 629.0,301.2 630.2,297.7 631.4,294.5 632.6,291.5 633.8,288.6 635.0,286.0 636.2,283.6 637.4,281.4 638.6,279.4 639.8,277.6 641.0,276.0 642.2,274.5 643.4,273.2 644.5,272.0 645.7,271.0 646.9,270.1 648.1,269.3 649.3,268.5 650.5,267.9 651.7,267.4 652.9,266.9 654.1,266.4 655.3,266.1 656.5,265.7 657.7,265.5 658.9,265.2 660.1,265.0 661.3,264.8 662.5,264.6 663.7,264.5 664.9,264.4 666.1,264.2 667.3,264.1" fill="none" stroke="#111" stroke-width="1" stroke-linejoin="round" stroke-linecap="round" />
<polyline points="524.8,377.1 526.0,377.1 527.2,377.1 528.4,377.1 529.6,377.1 530.8,377.0 532.0,377.0 533.2,377.0 534.4,377.0 535.6,376.9 536.8,376.9 538.0,376.9 539.2,376.8 540.4,376.8 541.6,376.8 542.8,376.7 544.0,376.7 545.2,376.6 546.4,376.6 547.6,376.5 548.7,376.5 549.9,376.4 551.1,376.3 552.3,376.2 553.5,376.2 554.7,376.1 555.9,376.0 557.1,375.8 558.3,375.7 559.5,375.6 560.7,375.4 561.9,375.3 563.1,375.1 564.3,374.9 565.5,374.6 566.7,374.4 567.9,374.1 569.1,373.7 570.3,373.3 571.5,372.9 572.7,372.5 573.9,371.9 575.1,371.3 576.3,370.7 577.5,369.9 578.7,369.1 579.9,368.2 581.1,367.2 582.3,366.1 583.5,364.9 584.7,363.6 585.9,362.2 587.1,360.8 588.3,359.2 589.5,357.6 590.7,356.0 591.9,354.3 593.1,352.6 594.3,351.0 595.5,349.3 596.6,347.7 597.8,346.1 599.0,344.7 600.2,343.2 601.4,341.9 602.6,340.7 603.8,339.6 605.0,338.5 606.2,337.6 607.4,336.7 608.6,336.0 609.8,335.3 611.0,334.7 612.2,334.1 613.4,333.7 614.6,333.2 615.8,332.9 617.0,332.5 618.2,332.2 619.4,332.0 620.6,331.7 621.8,331.5 623.0,331.3 624.2,331.2 625.4,331.0 626.6,330.9 627.8,330.8 629.0,330.7 630.2,330.6 631.4,330.5 632.6,330.4 633.8,330.4 635.0,330.3 636.2,330.3 637.4,330.2 638.6,330.1 639.8,330.1 641.0,330.1 642.2,330.0 643.4,330.0 644.5,329.9 645.7,329.9 646.9,329.9 648.1,329.8 649.3,329.8 650.5,329.7 651.7,329.7 652.9,329.7 654.1,329.6 655.3,329.6 656.5,329.6 657.7,329.5 658.9,329.5 660.1,329.5 661.3,329.5 662.5,329.4 663.7,329.4 664.9,329.4 666.1,329.3 667.3,329.3" fill="none" stroke="#e8201c" stroke-width="1" stroke-linejoin="round" stroke-linecap="round" />
<defs><radialGradient id="gb" cx="0.35" cy="0.35" r="0.7"><stop offset="0" stop-color="#aaa"/><stop offset="0.35" stop-color="#333"/><stop offset="1" stop-color="#000"/></radialGradient><radialGradient id="gr" cx="0.35" cy="0.35" r="0.7"><stop offset="0" stop-color="#ffb0a8"/><stop offset="0.35" stop-color="#f03a2a"/><stop offset="1" stop-color="#c01010"/></radialGradient></defs>
<circle cx="524.8" cy="377.5" r="3.4" fill="url(#gr)"/>
<circle cx="539.1" cy="376.2" r="3.4" fill="url(#gr)"/>
<circle cx="558.0" cy="375.4" r="3.4" fill="url(#gr)"/>
<circle cx="572.3" cy="369.6" r="3.4" fill="url(#gr)"/>
<circle cx="586.6" cy="362.0" r="3.4" fill="url(#gr)"/>
<circle cx="605.5" cy="331.5" r="3.4" fill="url(#gr)"/>
<circle cx="634.1" cy="331.1" r="3.4" fill="url(#gr)"/>
<circle cx="653.0" cy="329.5" r="3.4" fill="url(#gr)"/>
<circle cx="667.3" cy="328.2" r="3.4" fill="url(#gr)"/>
<circle cx="524.8" cy="380.6" r="3.1" fill="url(#gb)"/>
<circle cx="539.1" cy="380.1" r="3.1" fill="url(#gb)"/>
<circle cx="558.0" cy="378.8" r="3.1" fill="url(#gb)"/>
<circle cx="572.3" cy="377.8" r="3.1" fill="url(#gb)"/>
<circle cx="586.6" cy="375.4" r="3.1" fill="url(#gb)"/>
<circle cx="605.5" cy="363.6" r="3.1" fill="url(#gb)"/>
<circle cx="634.1" cy="285.8" r="3.1" fill="url(#gb)"/>
<circle cx="653.0" cy="264.7" r="3.1" fill="url(#gb)"/>
<circle cx="667.3" cy="265.3" r="3.1" fill="url(#gb)"/>
<text x="625" y="254.3" font-size="8.6" font-weight="bold" fill="#111" font-family="'Liberation Sans', sans-serif" textLength="47.5" lengthAdjust="spacingAndGlyphs"><tspan font-style="italic">V</tspan><tspan font-size="5.6" dy="1.8">G</tspan><tspan dy="-1.8"> = 0.5 &lt; </tspan><tspan font-style="italic">V</tspan><tspan font-size="5.6" dy="1.8">D</tspan></text>
<text x="629" y="312.6" font-size="8.6" font-weight="bold" fill="#e8201c" font-family="'Liberation Sans', sans-serif" textLength="47.5" lengthAdjust="spacingAndGlyphs"><tspan font-style="italic">V</tspan><tspan font-size="5.6" dy="1.8">G</tspan><tspan dy="-1.8"> = 0.6 &lt; </tspan><tspan font-style="italic">V</tspan><tspan font-size="5.6" dy="1.8">D</tspan></text>
<rect x="531" y="246.2" width="86.5" height="64.30000000000001" fill="#fff" stroke="#999" stroke-width="0.8"/>
<line x1="531.0" y1="302.4" x2="533.0" y2="302.4" stroke="#888" stroke-width="0.6" />
<text x="529.5" y="304.4" font-size="5.6" fill="#333" text-anchor="end" font-weight="normal" font-family="'Liberation Sans', sans-serif" >0.00</text>
<line x1="531.0" y1="286.4" x2="533.0" y2="286.4" stroke="#888" stroke-width="0.6" />
<text x="529.5" y="288.4" font-size="5.6" fill="#333" text-anchor="end" font-weight="normal" font-family="'Liberation Sans', sans-serif" >0.05</text>
<line x1="531.0" y1="270.3" x2="533.0" y2="270.3" stroke="#888" stroke-width="0.6" />
<text x="529.5" y="272.3" font-size="5.6" fill="#333" text-anchor="end" font-weight="normal" font-family="'Liberation Sans', sans-serif" >0.10</text>
<line x1="531.0" y1="254.3" x2="533.0" y2="254.3" stroke="#888" stroke-width="0.6" />
<text x="529.5" y="256.3" font-size="5.6" fill="#333" text-anchor="end" font-weight="normal" font-family="'Liberation Sans', sans-serif" >0.15</text>
<line x1="541.9" y1="310.5" x2="541.9" y2="308.5" stroke="#888" stroke-width="0.6" />
<text x="541.9" y="318.6" font-size="6.5" fill="#333" text-anchor="middle" font-weight="normal" font-family="'Liberation Sans', sans-serif" >0.0</text>
<line x1="565.7" y1="310.5" x2="565.7" y2="308.5" stroke="#888" stroke-width="0.6" />
<text x="565.7" y="318.6" font-size="6.5" fill="#333" text-anchor="middle" font-weight="normal" font-family="'Liberation Sans', sans-serif" >0.2</text>
<line x1="589.6" y1="310.5" x2="589.6" y2="308.5" stroke="#888" stroke-width="0.6" />
<text x="589.6" y="318.6" font-size="6.5" fill="#333" text-anchor="middle" font-weight="normal" font-family="'Liberation Sans', sans-serif" >0.4</text>
<line x1="613.4" y1="310.5" x2="613.4" y2="308.5" stroke="#888" stroke-width="0.6" />
<text x="613.4" y="318.6" font-size="6.5" fill="#333" text-anchor="middle" font-weight="normal" font-family="'Liberation Sans', sans-serif" >0.6</text>
<line x1="541.9" y1="302.4" x2="568.5" y2="246.5" stroke="#e8201c" stroke-width="0.7" />
<line x1="541.9" y1="302.4" x2="609.4" y2="252.1" stroke="#e8201c" stroke-width="0.7" />
<circle cx="542.7" cy="298.9" r="2.3" fill="url(#gr)"/>
<circle cx="544" cy="294" r="2.3" fill="url(#gr)"/>
<circle cx="545.9" cy="288.9" r="2.3" fill="url(#gr)"/>
<circle cx="549.4" cy="287.3" r="2.3" fill="url(#gr)"/>
<circle cx="555.4" cy="271.3" r="2.3" fill="url(#gr)"/>
<circle cx="568" cy="249.7" r="2.3" fill="url(#gr)"/>
<circle cx="542" cy="302" r="2.1" fill="url(#gb)"/>
<circle cx="543.5" cy="301" r="2.1" fill="url(#gb)"/>
<circle cx="545" cy="299.5" r="2.1" fill="url(#gb)"/>
<circle cx="549.1" cy="296.2" r="2.1" fill="url(#gb)"/>
<circle cx="555.4" cy="293.7" r="2.1" fill="url(#gb)"/>
<circle cx="568" cy="286.7" r="2.1" fill="url(#gb)"/>
<circle cx="604.8" cy="253.8" r="2.1" fill="url(#gb)"/>
<text x="564.0" y="263.0" font-size="4.8" fill="#e8201c" text-anchor="start" font-weight="bold" font-family="'Liberation Sans', sans-serif" >Slope = 0.802</text>
<text x="573.0" y="290.8" font-size="4.8" fill="#111" text-anchor="start" font-weight="bold" font-family="'Liberation Sans', sans-serif" >Slope = 0.318</text>
<defs><linearGradient id="gbg" x1="0" y1="0" x2="1" y2="0"><stop offset="0" stop-color="#f4f5fb"/><stop offset="0.3" stop-color="#eef0f8"/><stop offset="0.6" stop-color="#e3e9f4"/><stop offset="1" stop-color="#d9e3f2"/></linearGradient><linearGradient id="tri1" x1="0" y1="0" x2="0" y2="1"><stop offset="0" stop-color="#ffffff"/><stop offset="1" stop-color="#b8bdf0"/></linearGradient><linearGradient id="tri2" x1="0" y1="1" x2="0" y2="0"><stop offset="0" stop-color="#ffffff"/><stop offset="1" stop-color="#b0b6ee"/></linearGradient><linearGradient id="cap" x1="0" y1="0" x2="0" y2="1"><stop offset="0" stop-color="#c8c8c8"/><stop offset="0.5" stop-color="#a0a0a0"/><stop offset="1" stop-color="#8a8a8a"/></linearGradient><linearGradient id="sheet" x1="0" y1="0" x2="1" y2="0"><stop offset="0" stop-color="#95a7b9"/><stop offset="0.35" stop-color="#93a5b8"/><stop offset="0.5" stop-color="#7a8da2"/><stop offset="0.62" stop-color="#a7b7c7"/><stop offset="1" stop-color="#9cadbf"/></linearGradient></defs>
<rect x="2" y="441" width="397.8" height="214.2" rx="31" ry="30" fill="url(#gbg)"/>
<text x="4.7" y="445.7" font-size="20" fill="#111" text-anchor="start" font-weight="bold" font-family="'Liberation Sans', sans-serif" >(g)</text>
<rect x="14.6" y="452.3" width="36.2" height="60.9" rx="5" fill="#e3e3e6" stroke="#c4c4c8" stroke-width="0.8"/>
<rect x="18.3" y="459.6" width="28.8" height="39.6" rx="3" fill="#efeff1"/>
<line x1="24.0" y1="455.7" x2="41.1" y2="455.7" stroke="#aaa" stroke-width="0.9" />
<rect x="21.6" y="468.1" width="23.7" height="12.8" fill="#d5e1f3"/>
<text x="33.4" y="473.0" font-size="6.6" fill="#e02828" text-anchor="middle" font-weight="bold" font-family="'Liberation Serif', serif" >10.3</text>
<text x="33.4" y="480.3" font-size="6.6" fill="#e02828" text-anchor="middle" font-weight="bold" font-family="'Liberation Serif', serif" >mM</text>
<circle cx="28" cy="490.3" r="2.6" fill="#f01010"/><circle cx="38.6" cy="490.3" r="2.6" fill="#000"/>
<circle cx="34.1" cy="506.5" r="3.6" fill="none" stroke="#555" stroke-width="0.6"/>
<circle cx="67.2" cy="470.3" r="1.4" fill="#3d6e9e"/>
<path d="M68.3,466.0 A4.4,4.4 0 0 1 70.8,472.8" fill="none" stroke="#3d6e9e" stroke-width="1.3"/>
<path d="M69.3,462.3 A8.3,8.3 0 0 1 74.0,475.1" fill="none" stroke="#3d6e9e" stroke-width="1.3"/>
<path d="M70.4,458.5 A12.2,12.2 0 0 1 77.2,477.3" fill="none" stroke="#3d6e9e" stroke-width="1.3"/>
<ellipse cx="276.5" cy="550" rx="121" ry="78.8" fill="none" stroke="#4a6ea8" stroke-width="0.8" stroke-dasharray="2.2,1.6"/>
<line x1="127.5" y1="461.9" x2="231.0" y2="477.8" stroke="#4a6ea8" stroke-width="0.8" stroke-dasharray="2.2,1.6"/>
<line x1="127.5" y1="466.2" x2="180.0" y2="503.0" stroke="#4a6ea8" stroke-width="0.8" stroke-dasharray="2.2,1.6"/>
<path d="M243.1,475.5 C245.7,478.9 254.7,489.1 258.6,496.0 C262.5,502.9 264.9,511.4 266.4,516.7 C267.9,522.0 268.4,522.8 267.5,528.0 C266.6,533.2 264.4,541.1 261.2,547.8 C258.0,554.5 251.3,561.9 248.3,568.4 C245.3,574.9 243.1,580.5 243.1,586.5 C243.1,592.5 245.3,597.9 248.3,604.6 C251.3,611.3 258.8,622.6 261.2,626.6 C263.6,630.6 262.7,628.2 263.0,628.5" fill="none" stroke="#6b74e6" stroke-width="0.7"/>
<path d="M75.7,575.0 C77.7,576.8 87.5,582.9 87.7,586.0 C87.9,589.1 81.3,590.5 76.8,593.6 C72.2,596.7 63.7,602.6 60.4,604.6 C57.1,606.6 58.6,606.8 57.1,605.7 C55.6,604.6 50.7,600.5 51.6,598.0 C52.5,595.5 59.3,592.2 62.6,590.4 C65.9,588.6 69.5,589.3 71.3,587.1 C73.1,584.9 72.8,579.2 73.5,577.2 C74.2,575.2 75.3,575.4 75.7,575.0 Z" fill="#f6d4c6" stroke="#1a1a1a" stroke-width="0.7" stroke-linejoin="round"/>
<path d="M51.6,597.5 C52.6,598.8 60.5,601.2 57.6,605.5 C54.7,609.8 38.9,621.5 34.1,623.2 C29.3,624.9 25.7,619.8 28.6,615.5 C31.5,611.2 47.8,600.5 51.6,597.5 Z" fill="#ffffff" stroke="#1a1a1a" stroke-width="0.7" stroke-linejoin="round"/>
<path d="M21.5,612.5 C22.8,612.7 27.9,612.2 29.5,613.5 C31.1,614.8 31.0,617.6 31.0,620.0 C31.0,622.4 30.4,625.2 29.5,628.0 C28.6,630.8 26.8,634.3 25.5,637.0 C24.2,639.7 23.2,642.7 22.0,644.0 C20.8,645.3 18.9,646.0 18.0,645.0 C17.1,644.0 16.6,641.2 16.5,638.0 C16.4,634.8 17.1,629.3 17.5,626.0 C17.9,622.7 18.3,620.2 19.0,618.0 C19.7,615.8 21.1,613.4 21.5,612.5 Z" fill="#5d6366" stroke="#1a1a1a" stroke-width="0.7" stroke-linejoin="round"/>
<path d="M93.8,486.0 C95.0,486.6 99.1,487.5 101.1,489.6 C103.0,491.7 105.2,496.0 105.5,498.4 C105.8,500.8 104.5,503.5 102.6,504.2 C100.6,504.9 97.2,502.8 93.8,502.7 C90.4,502.6 85.8,503.1 82.1,503.5 C78.4,503.9 73.9,502.8 71.9,504.9 C70.0,507.0 70.7,511.1 70.4,515.9 C70.2,520.6 69.6,529.0 70.4,533.4 C71.2,537.8 75.2,540.5 75.5,542.2 C75.8,543.9 72.5,542.2 71.9,543.6 C71.3,545.0 72.6,549.4 71.9,550.9 C71.2,552.4 68.8,553.4 67.5,552.4 C66.2,551.4 64.8,548.0 63.9,545.1 C63.0,542.2 63.2,539.3 62.4,534.9 C61.5,530.5 59.4,523.9 58.8,518.8 C58.2,513.7 58.3,507.8 58.8,504.2 C59.3,500.6 59.5,499.1 61.7,496.9 C63.9,494.7 68.2,492.7 71.9,491.1 C75.6,489.5 79.9,488.2 83.6,487.4 C87.2,486.5 92.1,486.2 93.8,486.0 Z" fill="#f6d4c6" stroke="#1a1a1a" stroke-width="0.7" stroke-linejoin="round"/>
<path d="M122.0,551.0 C124.9,551.9 134.5,553.9 139.2,556.4 C143.9,558.9 148.3,563.6 150.1,566.3 C151.9,569.0 151.5,569.7 150.1,572.8 C148.7,575.9 143.2,582.0 141.4,584.9 C139.6,587.8 141.6,590.0 139.2,590.4 C136.8,590.8 128.8,589.3 127.1,587.1 C125.5,584.9 128.4,579.9 129.3,577.2 C130.2,574.5 134.2,571.8 132.6,570.7 C131.0,569.6 121.3,574.0 119.5,570.7 C117.7,567.4 121.6,554.3 122.0,551.0 Z" fill="#f6d4c6" stroke="#1a1a1a" stroke-width="0.7" stroke-linejoin="round"/>
<path d="M127.1,587.1 C129.1,587.6 139.0,586.0 139.2,590.4 C139.4,594.8 131.8,609.8 128.2,613.4 C124.5,617.0 117.5,616.7 117.3,612.3 C117.1,607.9 125.5,591.3 127.1,587.1 Z" fill="#ffffff" stroke="#1a1a1a" stroke-width="0.7" stroke-linejoin="round"/>
<path d="M117.3,612.3 C119.1,612.5 125.6,611.9 128.2,613.4 C130.8,614.9 130.8,617.9 132.6,621.0 C134.4,624.1 138.8,629.3 139.2,632.0 C139.6,634.7 137.4,637.4 134.8,637.4 C132.2,637.4 127.6,634.0 123.9,632.0 C120.2,630.0 115.5,627.2 112.9,625.4 C110.3,623.6 107.8,623.2 108.5,621.0 C109.2,618.8 115.8,613.8 117.3,612.3 Z" fill="#5d6366" stroke="#1a1a1a" stroke-width="0.7" stroke-linejoin="round"/>
<path d="M80.1,546.6 C85.6,546.4 105.6,545.1 112.9,545.5 C120.2,545.9 121.5,546.4 123.9,548.8 C126.3,551.2 127.5,556.1 127.1,559.7 C126.7,563.4 125.9,569.1 121.7,570.7 C117.5,572.4 106.0,568.5 102.0,569.6 C98.0,570.7 100.0,574.5 97.6,577.2 C95.2,579.9 90.2,584.7 87.7,586.0 C85.2,587.3 84.7,587.1 82.3,584.9 C79.9,582.7 74.6,576.3 73.5,572.8 C72.4,569.3 74.8,567.0 75.7,564.1 C76.6,561.2 78.3,558.2 79.0,555.3 C79.7,552.4 79.9,548.0 80.1,546.6 Z" fill="#3f6e6a" stroke="#1a1a1a" stroke-width="0.7" stroke-linejoin="round"/>
<path d="M87.2,488.1 C88.8,487.5 94.3,485.2 96.7,484.5 C99.1,483.8 99.8,483.2 101.8,483.8 C103.8,484.4 106.3,486.9 108.4,488.1 C110.5,489.3 112.6,489.2 114.2,491.1 C115.8,493.1 116.9,497.1 117.9,499.8 C118.9,502.5 119.7,503.5 120.1,507.1 C120.5,510.8 120.3,517.3 120.1,521.7 C119.8,526.1 119.6,529.5 118.6,533.4 C117.6,537.3 120.5,543.1 114.2,545.1 C107.9,547.1 86.1,546.6 80.7,545.1 C75.3,543.6 80.6,539.2 82.1,536.3 C83.5,533.4 88.3,530.5 89.4,527.6 C90.5,524.7 89.4,522.4 88.7,518.8 C88.0,515.1 83.2,507.9 85.0,505.7 C86.8,503.5 96.2,506.4 99.6,505.7 C103.0,505.0 104.7,503.5 105.5,501.3 C106.3,499.1 107.8,494.7 104.7,492.5 C101.7,490.3 90.1,488.8 87.2,488.1 Z" fill="#4ea39b" stroke="#1a1a1a" stroke-width="0.7" stroke-linejoin="round"/>
<path d="M80.5,544.2 L114.5,544.2 L114,548.4 L80.2,548.6 Z" fill="#2d524e" stroke="#1a1a1a" stroke-width="0.4"/>
<path d="M120.1,507.1 C121.3,506.9 125.5,506.9 127.4,505.7 C129.4,504.5 130.7,501.7 131.8,500.0 C132.9,498.3 133.9,497.2 133.9,495.4 C133.9,493.5 131.4,489.9 131.8,488.9 C132.2,487.9 134.9,490.5 136.1,489.6 C137.3,488.8 137.9,485.1 139.1,483.8 C140.3,482.5 142.1,481.1 143.4,481.6 C144.7,482.1 146.5,485.0 147.1,486.7 C147.7,488.4 147.5,489.6 147.1,492.0 C146.7,494.4 146.5,497.8 144.9,501.3 C143.3,504.8 140.3,509.8 137.6,513.0 C134.9,516.2 131.7,518.8 128.8,520.3 C125.9,521.8 121.5,523.9 120.1,521.7 C118.6,519.5 120.1,509.5 120.1,507.1 Z" fill="#f6d4c6" stroke="#1a1a1a" stroke-width="0.7" stroke-linejoin="round"/>
<path d="M102.5,476.0 C104.3,476.3 111.5,475.6 113.5,478.0 C115.5,480.4 115.3,488.8 114.5,490.5 C113.7,492.2 110.5,489.2 108.4,488.1 C106.3,487.0 102.8,486.0 101.8,484.0 C100.8,482.0 102.4,477.3 102.5,476.0 Z" fill="#f6d4c6" stroke="#1a1a1a" stroke-width="0.6" stroke-linejoin="round"/>
<path d="M105.0,466.0 C105.8,465.2 106.2,462.4 110.0,461.5 C113.8,460.6 124.4,460.1 127.5,460.8 C130.6,461.6 128.2,464.1 128.7,466.0 C129.1,467.9 130.4,470.6 130.2,472.0 C130.0,473.4 127.9,473.3 127.6,474.2 C127.3,475.1 128.6,476.2 128.2,477.2 C127.8,478.2 126.7,479.2 125.0,480.2 C123.3,481.2 120.2,482.8 118.0,483.0 C115.8,483.2 113.4,482.8 111.5,481.5 C109.6,480.2 107.6,477.6 106.5,475.0 C105.4,472.4 105.2,467.5 105.0,466.0 Z" fill="#f6d4c6" stroke="#1a1a1a" stroke-width="0.7" stroke-linejoin="round"/>
<path d="M98.6,466.5 C97.8,458 101,451.5 106,449.6 C110,448 115,448.6 119,447.8 C122,447.2 124.5,446.4 126.2,445.8 L125.8,448.6 C127.4,448.6 128.6,449.6 128.9,451.5 L128.6,458.8 L111,458 C108,459 106.6,461.5 106.8,465 C107.2,469.5 106.4,473 104.5,475.6 C101.5,474 99.2,470.5 98.6,466.5 Z" fill="#262626"/>
<path d="M108.5,465 C111.5,464.5 112.3,468.5 110.6,470.6 C109.6,471.8 108.4,471.4 108,470.4" fill="#f6d4c6" stroke="#1a1a1a" stroke-width="0.6"/>
<ellipse cx="124.2" cy="466.5" rx="0.7" ry="1" fill="#1a1a1a"/>
<path d="M123.2,476 C124.5,477.2 126.2,477.2 127.6,476.2" fill="none" stroke="#1a1a1a" stroke-width="0.5"/>
<path d="M99.2,455.8 L128.2,459.2 L128,463.6 L99.4,460.6 Z" fill="#d8b52a" stroke="#8a7010" stroke-width="0.4"/>
<rect x="105.4" y="456.4" width="2.6" height="4.8" fill="#2f5aa0"/>
<circle cx="119.6" cy="460.4" r="3.6" fill="none" stroke="#3a64b0" stroke-width="0.8"/>
<ellipse cx="103.4" cy="465.6" rx="1.3" ry="1.8" fill="#8ec8ee"/>
<ellipse cx="96.5" cy="472.8" rx="1.3" ry="1.8" fill="#8ec8ee"/>
<ellipse cx="91.5" cy="479.6" rx="1.3" ry="1.8" fill="#8ec8ee"/>
<line x1="172.0" y1="547.8" x2="232.0" y2="558.0" stroke="#5d89b0" stroke-width="5" stroke-linecap="round"/><line x1="172.0" y1="547.8" x2="232.0" y2="558.0" stroke="#a9cde8" stroke-width="3.6" stroke-linecap="round"/><line x1="172.0" y1="547.0" x2="232.0" y2="557.2" stroke="#dcedf8" stroke-width="0.9" stroke-linecap="round"/><line x1="173.6" y1="555.0" x2="233.6" y2="565.2" stroke="#5d89b0" stroke-width="5" stroke-linecap="round"/><line x1="173.6" y1="555.0" x2="233.6" y2="565.2" stroke="#a9cde8" stroke-width="3.6" stroke-linecap="round"/><line x1="173.6" y1="554.2" x2="233.6" y2="564.4" stroke="#dcedf8" stroke-width="0.9" stroke-linecap="round"/><line x1="175.2" y1="562.2" x2="235.2" y2="572.4" stroke="#5d89b0" stroke-width="5" stroke-linecap="round"/><line x1="175.2" y1="562.2" x2="235.2" y2="572.4" stroke="#a9cde8" stroke-width="3.6" stroke-linecap="round"/><line x1="175.2" y1="561.4" x2="235.2" y2="571.6" stroke="#dcedf8" stroke-width="0.9" stroke-linecap="round"/><line x1="176.8" y1="569.4" x2="236.8" y2="579.6" stroke="#5d89b0" stroke-width="5" stroke-linecap="round"/><line x1="176.8" y1="569.4" x2="236.8" y2="579.6" stroke="#a9cde8" stroke-width="3.6" stroke-linecap="round"/><line x1="176.8" y1="568.6" x2="236.8" y2="578.8" stroke="#dcedf8" stroke-width="0.9" stroke-linecap="round"/><line x1="178.3" y1="576.6" x2="238.3" y2="586.8" stroke="#5d89b0" stroke-width="5" stroke-linecap="round"/><line x1="178.3" y1="576.6" x2="238.3" y2="586.8" stroke="#a9cde8" stroke-width="3.6" stroke-linecap="round"/><line x1="178.3" y1="575.8" x2="238.3" y2="586.0" stroke="#dcedf8" stroke-width="0.9" stroke-linecap="round"/><line x1="175.1" y1="544.5" x2="183.3" y2="581.5" stroke="#5d89b0" stroke-width="5" stroke-linecap="round"/><line x1="175.1" y1="544.5" x2="183.3" y2="581.5" stroke="#a9cde8" stroke-width="3.6" stroke-linecap="round"/><line x1="175.1" y1="543.7" x2="183.3" y2="580.7" stroke="#dcedf8" stroke-width="0.9" stroke-linecap="round"/><line x1="185.1" y1="546.2" x2="193.3" y2="583.2" stroke="#5d89b0" stroke-width="5" stroke-linecap="round"/><line x1="185.1" y1="546.2" x2="193.3" y2="583.2" stroke="#a9cde8" stroke-width="3.6" stroke-linecap="round"/><line x1="185.1" y1="545.4" x2="193.3" y2="582.4" stroke="#dcedf8" stroke-width="0.9" stroke-linecap="round"/><line x1="195.1" y1="547.9" x2="203.3" y2="584.9" stroke="#5d89b0" stroke-width="5" stroke-linecap="round"/><line x1="195.1" y1="547.9" x2="203.3" y2="584.9" stroke="#a9cde8" stroke-width="3.6" stroke-linecap="round"/><line x1="195.1" y1="547.1" x2="203.3" y2="584.1" stroke="#dcedf8" stroke-width="0.9" stroke-linecap="round"/><line x1="205.1" y1="549.6" x2="213.3" y2="586.6" stroke="#5d89b0" stroke-width="5" stroke-linecap="round"/><line x1="205.1" y1="549.6" x2="213.3" y2="586.6" stroke="#a9cde8" stroke-width="3.6" stroke-linecap="round"/><line x1="205.1" y1="548.8" x2="213.3" y2="585.8" stroke="#dcedf8" stroke-width="0.9" stroke-linecap="round"/><line x1="215.1" y1="551.3" x2="223.3" y2="588.3" stroke="#5d89b0" stroke-width="5" stroke-linecap="round"/><line x1="215.1" y1="551.3" x2="223.3" y2="588.3" stroke="#a9cde8" stroke-width="3.6" stroke-linecap="round"/><line x1="215.1" y1="550.5" x2="223.3" y2="587.5" stroke="#dcedf8" stroke-width="0.9" stroke-linecap="round"/><line x1="225.1" y1="553.0" x2="233.3" y2="590.0" stroke="#5d89b0" stroke-width="5" stroke-linecap="round"/><line x1="225.1" y1="553.0" x2="233.3" y2="590.0" stroke="#a9cde8" stroke-width="3.6" stroke-linecap="round"/><line x1="225.1" y1="552.2" x2="233.3" y2="589.2" stroke="#dcedf8" stroke-width="0.9" stroke-linecap="round"/><line x1="172.8" y1="548.0" x2="179.2" y2="549.0" stroke="#5d89b0" stroke-width="5" stroke-linecap="round"/><line x1="172.8" y1="548.0" x2="179.2" y2="549.0" stroke="#a9cde8" stroke-width="3.6" stroke-linecap="round"/><line x1="172.8" y1="547.2" x2="179.2" y2="548.2" stroke="#dcedf8" stroke-width="0.9" stroke-linecap="round"/><line x1="192.8" y1="551.4" x2="199.2" y2="552.4" stroke="#5d89b0" stroke-width="5" stroke-linecap="round"/><line x1="192.8" y1="551.4" x2="199.2" y2="552.4" stroke="#a9cde8" stroke-width="3.6" stroke-linecap="round"/><line x1="192.8" y1="550.6" x2="199.2" y2="551.6" stroke="#dcedf8" stroke-width="0.9" stroke-linecap="round"/><line x1="212.8" y1="554.8" x2="219.2" y2="555.8" stroke="#5d89b0" stroke-width="5" stroke-linecap="round"/><line x1="212.8" y1="554.8" x2="219.2" y2="555.8" stroke="#a9cde8" stroke-width="3.6" stroke-linecap="round"/><line x1="212.8" y1="554.0" x2="219.2" y2="555.0" stroke="#dcedf8" stroke-width="0.9" stroke-linecap="round"/><line x1="184.4" y1="556.9" x2="190.8" y2="557.9" stroke="#5d89b0" stroke-width="5" stroke-linecap="round"/><line x1="184.4" y1="556.9" x2="190.8" y2="557.9" stroke="#a9cde8" stroke-width="3.6" stroke-linecap="round"/><line x1="184.4" y1="556.1" x2="190.8" y2="557.1" stroke="#dcedf8" stroke-width="0.9" stroke-linecap="round"/><line x1="204.4" y1="560.3" x2="210.8" y2="561.3" stroke="#5d89b0" stroke-width="5" stroke-linecap="round"/><line x1="204.4" y1="560.3" x2="210.8" y2="561.3" stroke="#a9cde8" stroke-width="3.6" stroke-linecap="round"/><line x1="204.4" y1="559.5" x2="210.8" y2="560.5" stroke="#dcedf8" stroke-width="0.9" stroke-linecap="round"/><line x1="224.4" y1="563.7" x2="230.8" y2="564.7" stroke="#5d89b0" stroke-width="5" stroke-linecap="round"/><line x1="224.4" y1="563.7" x2="230.8" y2="564.7" stroke="#a9cde8" stroke-width="3.6" stroke-linecap="round"/><line x1="224.4" y1="562.9" x2="230.8" y2="563.9" stroke="#dcedf8" stroke-width="0.9" stroke-linecap="round"/><line x1="176.0" y1="562.4" x2="182.4" y2="563.4" stroke="#5d89b0" stroke-width="5" stroke-linecap="round"/><line x1="176.0" y1="562.4" x2="182.4" y2="563.4" stroke="#a9cde8" stroke-width="3.6" stroke-linecap="round"/><line x1="176.0" y1="561.6" x2="182.4" y2="562.6" stroke="#dcedf8" stroke-width="0.9" stroke-linecap="round"/><line x1="196.0" y1="565.8" x2="202.4" y2="566.8" stroke="#5d89b0" stroke-width="5" stroke-linecap="round"/><line x1="196.0" y1="565.8" x2="202.4" y2="566.8" stroke="#a9cde8" stroke-width="3.6" stroke-linecap="round"/><line x1="196.0" y1="565.0" x2="202.4" y2="566.0" stroke="#dcedf8" stroke-width="0.9" stroke-linecap="round"/><line x1="216.0" y1="569.2" x2="222.4" y2="570.2" stroke="#5d89b0" stroke-width="5" stroke-linecap="round"/><line x1="216.0" y1="569.2" x2="222.4" y2="570.2" stroke="#a9cde8" stroke-width="3.6" stroke-linecap="round"/><line x1="216.0" y1="568.4" x2="222.4" y2="569.4" stroke="#dcedf8" stroke-width="0.9" stroke-linecap="round"/><line x1="187.6" y1="571.3" x2="194.0" y2="572.3" stroke="#5d89b0" stroke-width="5" stroke-linecap="round"/><line x1="187.6" y1="571.3" x2="194.0" y2="572.3" stroke="#a9cde8" stroke-width="3.6" stroke-linecap="round"/><line x1="187.6" y1="570.5" x2="194.0" y2="571.5" stroke="#dcedf8" stroke-width="0.9" stroke-linecap="round"/><line x1="207.6" y1="574.7" x2="214.0" y2="575.7" stroke="#5d89b0" stroke-width="5" stroke-linecap="round"/><line x1="207.6" y1="574.7" x2="214.0" y2="575.7" stroke="#a9cde8" stroke-width="3.6" stroke-linecap="round"/><line x1="207.6" y1="573.9" x2="214.0" y2="574.9" stroke="#dcedf8" stroke-width="0.9" stroke-linecap="round"/><line x1="227.6" y1="578.1" x2="234.0" y2="579.1" stroke="#5d89b0" stroke-width="5" stroke-linecap="round"/><line x1="227.6" y1="578.1" x2="234.0" y2="579.1" stroke="#a9cde8" stroke-width="3.6" stroke-linecap="round"/><line x1="227.6" y1="577.3" x2="234.0" y2="578.3" stroke="#dcedf8" stroke-width="0.9" stroke-linecap="round"/><line x1="179.1" y1="576.8" x2="185.5" y2="577.8" stroke="#5d89b0" stroke-width="5" stroke-linecap="round"/><line x1="179.1" y1="576.8" x2="185.5" y2="577.8" stroke="#a9cde8" stroke-width="3.6" stroke-linecap="round"/><line x1="179.1" y1="576.0" x2="185.5" y2="577.0" stroke="#dcedf8" stroke-width="0.9" stroke-linecap="round"/><line x1="199.1" y1="580.2" x2="205.5" y2="581.2" stroke="#5d89b0" stroke-width="5" stroke-linecap="round"/><line x1="199.1" y1="580.2" x2="205.5" y2="581.2" stroke="#a9cde8" stroke-width="3.6" stroke-linecap="round"/><line x1="199.1" y1="579.4" x2="205.5" y2="580.4" stroke="#dcedf8" stroke-width="0.9" stroke-linecap="round"/><line x1="219.1" y1="583.6" x2="225.5" y2="584.6" stroke="#5d89b0" stroke-width="5" stroke-linecap="round"/><line x1="219.1" y1="583.6" x2="225.5" y2="584.6" stroke="#a9cde8" stroke-width="3.6" stroke-linecap="round"/><line x1="219.1" y1="582.8" x2="225.5" y2="583.8" stroke="#dcedf8" stroke-width="0.9" stroke-linecap="round"/>
<line x1="199.0" y1="545.5" x2="200.8" y2="548.5" stroke="#111" stroke-width="1" />
<line x1="177.4" y1="563.6" x2="186.0" y2="562.2" stroke="#111" stroke-width="1" />
<line x1="200.5" y1="553.5" x2="204.8" y2="563.6" stroke="#111" stroke-width="1" />
<line x1="217.8" y1="557.8" x2="228.0" y2="557.1" stroke="#111" stroke-width="1" />
<line x1="210.6" y1="578.8" x2="214.9" y2="586.8" stroke="#111" stroke-width="1" />
<line x1="190.0" y1="556.0" x2="196.0" y2="559.0" stroke="#111" stroke-width="1" />
<circle cx="203.4" cy="558.6" r="1.6" fill="#f0e080"/>
<path d="M174.5,513.7 C180,511 185,509.5 188.9,508.7 C194,507.6 198,506.8 201.9,507.2 C205,507.8 207,509.8 209.2,511.6 C212,514 215,516 217.8,515.9 C221,515.8 224,515 228,514.5 C233,513 237,510.5 241,508.7 L249.6,544.8 C244,547.5 239,550.5 233.7,552.1 C229,553.5 225,554.5 222.2,554.2 C219,553.5 217,551 214.9,549.2 C211,546 207,544 203.4,543.4 C198,542.5 193,541.8 188.9,541.9 C182,543 174,547.5 166.5,551.3 Z" fill="url(#sheet)" stroke="#7d8ea2" stroke-width="0.4"/>
<circle cx="224.3" cy="528.9" r="8" fill="#fff"/>
<line x1="224.3" y1="521.0" x2="224.3" y2="536.8" stroke="#111" stroke-width="0.7" />
<line x1="216.4" y1="528.9" x2="232.2" y2="528.9" stroke="#111" stroke-width="0.7" />
<ellipse cx="224.3" cy="529.1" rx="3.3" ry="2.1" fill="#ecd870"/>
<text x="224.3" y="519.6" font-size="4.3" fill="#e02020" text-anchor="middle" font-weight="bold" font-family="'Liberation Serif', serif" >G</text>
<text x="213.2" y="530.5" font-size="4.3" fill="#e02020" text-anchor="middle" font-weight="bold" font-family="'Liberation Serif', serif" >S</text>
<text x="236.6" y="530.5" font-size="4.3" fill="#e02020" text-anchor="middle" font-weight="bold" font-family="'Liberation Serif', serif" >D</text>
<circle cx="282.6" cy="502.2" r="15.6" fill="#f4f0dc" stroke="#b0a070" stroke-width="0.6"/>
<circle cx="282.6" cy="502.2" r="13.6" fill="#2c4c8c"/>
<circle cx="282.6" cy="502.2" r="12.2" fill="#0a0a0a"/>
<circle cx="282.6" cy="502.2" r="2.6" fill="#f2dc7e" stroke="#d8bc52" stroke-width="0.3"/><circle cx="287.1" cy="502.2" r="2.6" fill="#f2dc7e" stroke="#d8bc52" stroke-width="0.3"/><circle cx="284.9" cy="506.1" r="2.6" fill="#f2dc7e" stroke="#d8bc52" stroke-width="0.3"/><circle cx="280.3" cy="506.1" r="2.6" fill="#f2dc7e" stroke="#d8bc52" stroke-width="0.3"/><circle cx="278.1" cy="502.2" r="2.6" fill="#f2dc7e" stroke="#d8bc52" stroke-width="0.3"/><circle cx="280.3" cy="498.3" r="2.6" fill="#f2dc7e" stroke="#d8bc52" stroke-width="0.3"/><circle cx="284.9" cy="498.3" r="2.6" fill="#f2dc7e" stroke="#d8bc52" stroke-width="0.3"/><circle cx="291.1" cy="503.9" r="2.6" fill="#f2dc7e" stroke="#d8bc52" stroke-width="0.3"/><circle cx="289.1" cy="507.9" r="2.6" fill="#f2dc7e" stroke="#d8bc52" stroke-width="0.3"/><circle cx="285.3" cy="510.4" r="2.6" fill="#f2dc7e" stroke="#d8bc52" stroke-width="0.3"/><circle cx="280.9" cy="510.7" r="2.6" fill="#f2dc7e" stroke="#d8bc52" stroke-width="0.3"/><circle cx="276.9" cy="508.7" r="2.6" fill="#f2dc7e" stroke="#d8bc52" stroke-width="0.3"/><circle cx="274.4" cy="504.9" r="2.6" fill="#f2dc7e" stroke="#d8bc52" stroke-width="0.3"/><circle cx="274.1" cy="500.5" r="2.6" fill="#f2dc7e" stroke="#d8bc52" stroke-width="0.3"/><circle cx="276.1" cy="496.5" r="2.6" fill="#f2dc7e" stroke="#d8bc52" stroke-width="0.3"/><circle cx="279.9" cy="494.0" r="2.6" fill="#f2dc7e" stroke="#d8bc52" stroke-width="0.3"/><circle cx="284.3" cy="493.7" r="2.6" fill="#f2dc7e" stroke="#d8bc52" stroke-width="0.3"/><circle cx="288.3" cy="495.7" r="2.6" fill="#f2dc7e" stroke="#d8bc52" stroke-width="0.3"/><circle cx="290.8" cy="499.5" r="2.6" fill="#f2dc7e" stroke="#d8bc52" stroke-width="0.3"/>
<line x1="289.0" y1="490.0" x2="304.0" y2="490.0" stroke="#2020f0" stroke-width="0.9" />
<line x1="292.0" y1="495.5" x2="304.0" y2="495.5" stroke="#2020f0" stroke-width="0.9" />
<line x1="291.0" y1="501.6" x2="304.0" y2="501.6" stroke="#2020f0" stroke-width="0.9" />
<line x1="297.0" y1="509.4" x2="304.0" y2="509.4" stroke="#f0a080" stroke-width="0.9" />
<line x1="294.0" y1="516.4" x2="304.0" y2="516.4" stroke="#f0a080" stroke-width="0.9" />
<text x="305.6" y="491.8" font-size="5.5" fill="#222" text-anchor="start" font-weight="bold" font-family="'Liberation Serif', serif" >PEDOT:PSS</text>
<text x="305.6" y="497.3" font-size="5.5" fill="#222" text-anchor="start" font-weight="bold" font-family="'Liberation Serif', serif" >MXene</text>
<text x="305.6" y="503.6" font-size="5.5" fill="#222" text-anchor="start" font-weight="bold" font-family="'Liberation Serif', serif" >PVF</text>
<text x="305.6" y="511.0" font-size="5.5" fill="#222" text-anchor="start" font-weight="bold" font-family="'Liberation Serif', serif" >LOx</text>
<text x="305.6" y="518.3" font-size="5.5" fill="#222" text-anchor="start" font-weight="bold" font-family="'Liberation Serif', serif" >Nafion</text>
<polygon points="276.7,521.9 301.6,521.9 289.2,537.5" fill="url(#tri1)" stroke="none" stroke-width="1" />
<rect x="268.3" y="540.4" width="80" height="12.4" rx="6" fill="#cfd6e2" opacity="0.8"/>
<rect x="270" y="542.3" width="74" height="7.6" rx="3.8" fill="#3b5a8e"/>
<circle cx="315.6" cy="548.5" r="0.95" fill="#c8a436"/><circle cx="327.7" cy="550.5" r="0.95" fill="#c8a436"/><circle cx="323.8" cy="550.3" r="0.95" fill="#c8a436"/><circle cx="274.0" cy="545.9" r="0.95" fill="#c8a436"/><circle cx="338.0" cy="547.7" r="0.95" fill="#c8a436"/><circle cx="335.1" cy="542.6" r="0.95" fill="#c8a436"/><circle cx="304.8" cy="543.8" r="0.95" fill="#c8a436"/><circle cx="310.1" cy="547.0" r="0.95" fill="#c8a436"/><circle cx="272.9" cy="543.6" r="0.95" fill="#c8a436"/><circle cx="291.6" cy="550.2" r="0.95" fill="#c8a436"/><circle cx="325.6" cy="543.0" r="0.95" fill="#c8a436"/><circle cx="327.8" cy="542.8" r="0.95" fill="#c8a436"/><circle cx="315.2" cy="542.7" r="0.95" fill="#c8a436"/><circle cx="272.1" cy="549.8" r="0.95" fill="#c8a436"/><circle cx="286.7" cy="543.5" r="0.95" fill="#c8a436"/><circle cx="340.8" cy="549.8" r="0.95" fill="#c8a436"/><circle cx="292.3" cy="550.6" r="0.95" fill="#c8a436"/><circle cx="309.7" cy="547.9" r="0.95" fill="#c8a436"/><circle cx="286.3" cy="550.4" r="0.95" fill="#c8a436"/><circle cx="320.3" cy="550.7" r="0.95" fill="#c8a436"/><circle cx="334.6" cy="544.3" r="0.95" fill="#c8a436"/><circle cx="297.3" cy="543.1" r="0.95" fill="#c8a436"/><circle cx="282.2" cy="542.1" r="0.95" fill="#c8a436"/><circle cx="293.1" cy="547.2" r="0.95" fill="#c8a436"/><circle cx="272.2" cy="547.9" r="0.95" fill="#c8a436"/><circle cx="295.7" cy="544.4" r="0.95" fill="#c8a436"/><circle cx="329.3" cy="546.1" r="0.95" fill="#c8a436"/><circle cx="294.1" cy="546.1" r="0.95" fill="#c8a436"/><circle cx="321.3" cy="542.0" r="0.95" fill="#c8a436"/><circle cx="340.3" cy="541.7" r="0.95" fill="#c8a436"/><circle cx="324.5" cy="549.5" r="0.95" fill="#c8a436"/><circle cx="273.3" cy="549.0" r="0.95" fill="#c8a436"/><circle cx="297.6" cy="547.0" r="0.95" fill="#c8a436"/><circle cx="272.6" cy="541.9" r="0.95" fill="#c8a436"/><circle cx="284.7" cy="550.6" r="0.95" fill="#c8a436"/><circle cx="285.8" cy="548.7" r="0.95" fill="#c8a436"/><circle cx="337.1" cy="550.4" r="0.95" fill="#c8a436"/><circle cx="296.1" cy="544.9" r="0.95" fill="#c8a436"/><circle cx="308.7" cy="548.9" r="0.95" fill="#c8a436"/><circle cx="279.6" cy="548.6" r="0.95" fill="#c8a436"/><circle cx="327.8" cy="549.7" r="0.95" fill="#c8a436"/><circle cx="274.6" cy="550.5" r="0.95" fill="#c8a436"/><circle cx="278.4" cy="544.7" r="0.95" fill="#c8a436"/><circle cx="314.8" cy="550.2" r="0.95" fill="#c8a436"/><circle cx="295.8" cy="550.3" r="0.95" fill="#c8a436"/><circle cx="310.2" cy="544.5" r="0.95" fill="#c8a436"/><circle cx="294.2" cy="543.2" r="0.95" fill="#c8a436"/><circle cx="277.5" cy="542.9" r="0.95" fill="#c8a436"/><circle cx="320.2" cy="551.0" r="0.95" fill="#c8a436"/><circle cx="283.3" cy="542.0" r="0.95" fill="#c8a436"/><circle cx="341.1" cy="546.6" r="0.95" fill="#c8a436"/><circle cx="300.4" cy="543.8" r="0.95" fill="#c8a436"/><circle cx="313.6" cy="549.3" r="0.95" fill="#c8a436"/><circle cx="303.9" cy="545.5" r="0.95" fill="#c8a436"/><circle cx="275.9" cy="550.2" r="0.95" fill="#c8a436"/>
<rect x="342.3" y="540.2" width="20" height="12.8" fill="url(#cap)"/>
<ellipse cx="362.3" cy="546.6" rx="4.6" ry="6.4" fill="#b8b8b8" stroke="#999" stroke-width="0.4"/>
<text x="368.6" y="550.3" font-size="10" fill="#e02020" text-anchor="start" font-weight="bold" font-family="'Liberation Serif', serif" >G</text>
<circle cx="312.9" cy="558.1" r="6.5" fill="#e4dcf0" stroke="#c8c0e0" stroke-width="0.5"/>
<circle cx="311" cy="556" r="0.7" fill="#30c0c0"/>
<circle cx="314.5" cy="555" r="0.7" fill="#8040c0"/>
<circle cx="310.5" cy="560" r="0.7" fill="#8040c0"/>
<circle cx="315" cy="560.5" r="0.7" fill="#30c0c0"/>
<circle cx="313" cy="558" r="0.7" fill="#5050d0"/>
<path d="M272,570.4 C285,568 295,566.5 305,567 C318,568 325,575 335,578.8 C341,580.5 346,579 352,576.5" fill="none" stroke="#243a70" stroke-width="6.4" stroke-linecap="round"/>
<path d="M272,570.4 C285,568 295,566.5 305,567 C318,568 325,575 335,578.8 C341,580.5 346,579 352,576.5" fill="none" stroke="#4a74b8" stroke-width="4.6" stroke-linecap="round"/>
<path d="M270.5,570.6 L280.5,569.2" stroke="#a8a8a8" stroke-width="5.2" stroke-linecap="round"/>
<path d="M349,577.5 L355,575.2" stroke="#a8a8a8" stroke-width="5.2" stroke-linecap="round"/>
<text x="258.5" y="576.7" font-size="10" fill="#e02020" text-anchor="start" font-weight="bold" font-family="'Liberation Serif', serif" >S</text>
<text x="361.3" y="578.6" font-size="10" fill="#e02020" text-anchor="start" font-weight="bold" font-family="'Liberation Serif', serif" >D</text>
<polygon points="299.6,572.7 287.3,591.1 312.0,591.1" fill="url(#tri2)" stroke="none" stroke-width="1" />
<circle cx="291.1" cy="608.8" r="14.2" fill="#1f3366"/>
<circle cx="291.1" cy="608.8" r="12.2" fill="#0a0a0a"/>
<circle cx="291.1" cy="608.8" r="2.6" fill="#f2dc7e" stroke="#d8bc52" stroke-width="0.3"/><circle cx="295.6" cy="608.8" r="2.6" fill="#f2dc7e" stroke="#d8bc52" stroke-width="0.3"/><circle cx="293.4" cy="612.7" r="2.6" fill="#f2dc7e" stroke="#d8bc52" stroke-width="0.3"/><circle cx="288.8" cy="612.7" r="2.6" fill="#f2dc7e" stroke="#d8bc52" stroke-width="0.3"/><circle cx="286.6" cy="608.8" r="2.6" fill="#f2dc7e" stroke="#d8bc52" stroke-width="0.3"/><circle cx="288.8" cy="604.9" r="2.6" fill="#f2dc7e" stroke="#d8bc52" stroke-width="0.3"/><circle cx="293.4" cy="604.9" r="2.6" fill="#f2dc7e" stroke="#d8bc52" stroke-width="0.3"/><circle cx="299.6" cy="610.5" r="2.6" fill="#f2dc7e" stroke="#d8bc52" stroke-width="0.3"/><circle cx="297.6" cy="614.5" r="2.6" fill="#f2dc7e" stroke="#d8bc52" stroke-width="0.3"/><circle cx="293.8" cy="617.0" r="2.6" fill="#f2dc7e" stroke="#d8bc52" stroke-width="0.3"/><circle cx="289.4" cy="617.3" r="2.6" fill="#f2dc7e" stroke="#d8bc52" stroke-width="0.3"/><circle cx="285.4" cy="615.3" r="2.6" fill="#f2dc7e" stroke="#d8bc52" stroke-width="0.3"/><circle cx="282.9" cy="611.5" r="2.6" fill="#f2dc7e" stroke="#d8bc52" stroke-width="0.3"/><circle cx="282.6" cy="607.1" r="2.6" fill="#f2dc7e" stroke="#d8bc52" stroke-width="0.3"/><circle cx="284.6" cy="603.1" r="2.6" fill="#f2dc7e" stroke="#d8bc52" stroke-width="0.3"/><circle cx="288.4" cy="600.6" r="2.6" fill="#f2dc7e" stroke="#d8bc52" stroke-width="0.3"/><circle cx="292.8" cy="600.3" r="2.6" fill="#f2dc7e" stroke="#d8bc52" stroke-width="0.3"/><circle cx="296.8" cy="602.3" r="2.6" fill="#f2dc7e" stroke="#d8bc52" stroke-width="0.3"/><circle cx="299.3" cy="606.1" r="2.6" fill="#f2dc7e" stroke="#d8bc52" stroke-width="0.3"/>
<line x1="299.6" y1="597.9" x2="312.3" y2="597.9" stroke="#2020f0" stroke-width="0.9" />
<line x1="303.4" y1="607.8" x2="312.3" y2="607.8" stroke="#2020f0" stroke-width="0.9" />
<line x1="293.9" y1="616.4" x2="312.3" y2="616.4" stroke="#2020f0" stroke-width="0.9" />
<text x="313.8" y="600.0" font-size="5.5" fill="#222" text-anchor="start" font-weight="bold" font-family="'Liberation Serif', serif" >PEDOT:PSS</text>
<text x="313.8" y="609.5" font-size="5.5" fill="#222" text-anchor="start" font-weight="bold" font-family="'Liberation Serif', serif" >MXene</text>
<text x="313.8" y="618.5" font-size="5.5" fill="#222" text-anchor="start" font-weight="bold" font-family="'Liberation Serif', serif" >PVF</text>
<text x="414.0" y="445.4" font-size="20" fill="#111" text-anchor="start" font-weight="bold" font-family="'Liberation Sans', sans-serif" >(h)</text>
<rect x="459.3" y="443.2" width="218.8" height="178.90000000000003" fill="none" stroke="#555" stroke-width="1.3"/>
<line x1="455.3" y1="605.8" x2="459.3" y2="605.8" stroke="#333" stroke-width="1" />
<text x="453.2" y="610.0" font-size="13.3" fill="#111" text-anchor="end" font-weight="bold" font-family="'Liberation Serif', serif" >10</text>
<line x1="455.3" y1="572.6" x2="459.3" y2="572.6" stroke="#333" stroke-width="1" />
<text x="453.2" y="576.9" font-size="13.3" fill="#111" text-anchor="end" font-weight="bold" font-family="'Liberation Serif', serif" >15</text>
<line x1="455.3" y1="539.5" x2="459.3" y2="539.5" stroke="#333" stroke-width="1" />
<text x="453.2" y="543.7" font-size="13.3" fill="#111" text-anchor="end" font-weight="bold" font-family="'Liberation Serif', serif" >20</text>
<line x1="455.3" y1="506.3" x2="459.3" y2="506.3" stroke="#333" stroke-width="1" />
<text x="453.2" y="510.5" font-size="13.3" fill="#111" text-anchor="end" font-weight="bold" font-family="'Liberation Serif', serif" >25</text>
<line x1="455.3" y1="473.2" x2="459.3" y2="473.2" stroke="#333" stroke-width="1" />
<text x="453.2" y="477.4" font-size="13.3" fill="#111" text-anchor="end" font-weight="bold" font-family="'Liberation Serif', serif" >30</text>
<line x1="457.1" y1="589.2" x2="459.3" y2="589.2" stroke="#333" stroke-width="1" />
<line x1="457.1" y1="556.1" x2="459.3" y2="556.1" stroke="#333" stroke-width="1" />
<line x1="457.1" y1="522.9" x2="459.3" y2="522.9" stroke="#333" stroke-width="1" />
<line x1="457.1" y1="489.8" x2="459.3" y2="489.8" stroke="#333" stroke-width="1" />
<line x1="457.1" y1="456.6" x2="459.3" y2="456.6" stroke="#333" stroke-width="1" />
<line x1="470.4" y1="622.1" x2="470.4" y2="626.1" stroke="#333" stroke-width="1" />
<text x="470.4" y="638.8" font-size="12.5" fill="#111" text-anchor="middle" font-weight="bold" font-family="'Liberation Serif', serif" >0</text>
<line x1="494.0" y1="622.1" x2="494.0" y2="626.1" stroke="#333" stroke-width="1" />
<text x="494.0" y="638.8" font-size="12.5" fill="#111" text-anchor="middle" font-weight="bold" font-family="'Liberation Serif', serif" >100</text>
<line x1="517.6" y1="622.1" x2="517.6" y2="626.1" stroke="#333" stroke-width="1" />
<text x="517.6" y="638.8" font-size="12.5" fill="#111" text-anchor="middle" font-weight="bold" font-family="'Liberation Serif', serif" >200</text>
<line x1="541.2" y1="622.1" x2="541.2" y2="626.1" stroke="#333" stroke-width="1" />
<text x="541.2" y="638.8" font-size="12.5" fill="#111" text-anchor="middle" font-weight="bold" font-family="'Liberation Serif', serif" >300</text>
<line x1="564.8" y1="622.1" x2="564.8" y2="626.1" stroke="#333" stroke-width="1" />
<text x="564.8" y="638.8" font-size="12.5" fill="#111" text-anchor="middle" font-weight="bold" font-family="'Liberation Serif', serif" >400</text>
<line x1="588.4" y1="622.1" x2="588.4" y2="626.1" stroke="#333" stroke-width="1" />
<text x="588.4" y="638.8" font-size="12.5" fill="#111" text-anchor="middle" font-weight="bold" font-family="'Liberation Serif', serif" >500</text>
<line x1="612.1" y1="622.1" x2="612.1" y2="626.1" stroke="#333" stroke-width="1" />
<text x="612.1" y="638.8" font-size="12.5" fill="#111" text-anchor="middle" font-weight="bold" font-family="'Liberation Serif', serif" >600</text>
<line x1="635.7" y1="622.1" x2="635.7" y2="626.1" stroke="#333" stroke-width="1" />
<text x="635.7" y="638.8" font-size="12.5" fill="#111" text-anchor="middle" font-weight="bold" font-family="'Liberation Serif', serif" >700</text>
<line x1="659.3" y1="622.1" x2="659.3" y2="626.1" stroke="#333" stroke-width="1" />
<text x="659.3" y="638.8" font-size="12.5" fill="#111" text-anchor="middle" font-weight="bold" font-family="'Liberation Serif', serif" >800</text>
<text x="570.6" y="651.6" font-size="14" fill="#111" text-anchor="middle" font-weight="bold" font-family="'Liberation Serif', serif" >Time (s)</text>
<text transform="translate(432.6,528.2) rotate(-90)" font-size="14.7" fill="#111" text-anchor="middle" font-weight="bold" font-family="'Liberation Serif', serif">|<tspan font-style="italic">I</tspan><tspan font-size="10" dy="3">ds</tspan><tspan dy="-3">| (mA)</tspan></text>
<polyline points="471.1,471.3 473.0,471.3 475.0,471.4 476.9,471.8 478.9,471.9 480.9,471.8 482.9,472.2 484.9,472.1 486.9,472.5 488.9,472.8 490.6,473.3 492.3,473.4 494.0,473.4 494.0,460.7 494.3,474.2 496.6,475.5 498.9,476.5 500.6,476.9 502.4,477.7 504.1,478.1 505.9,478.8 507.9,479.1 509.9,479.7 511.9,480.5 514.0,480.9 516.2,482.0 518.3,482.3 518.3,476.4 518.6,483.3 520.8,485.0 522.9,486.2 524.9,487.6 526.9,488.8 528.9,489.8 530.6,490.4 532.4,491.4 534.1,492.4 535.9,493.2 538.0,494.3 540.2,495.4 542.3,496.1 542.3,489.7 542.6,497.0 544.8,499.0 546.9,500.5 548.9,501.4 550.9,502.9 552.9,504.0 554.6,504.9 556.4,505.6 558.1,506.2 559.9,507.2 561.9,508.1 564.0,508.7 566.0,509.9 566.2,503.4 566.5,511.0 568.2,513.6 569.9,515.5 571.9,517.2 573.9,518.3 575.6,518.9 577.4,519.3 579.1,520.3 580.9,520.6 582.6,521.1 584.4,521.8 586.1,522.3 587.9,522.5 589.6,523.0 589.6,516.3 590.1,524.5 592.0,526.7 593.9,529.0 595.7,530.8 597.4,532.5 599.2,534.3 600.9,535.0 602.5,536.1 604.2,537.4 605.9,538.2 607.7,538.5 609.5,539.1 611.3,540.2 613.1,540.7 613.1,533.2 613.5,542.0 615.7,543.3 617.9,545.0 620.3,545.8 622.7,546.5 624.8,548.0 626.9,549.5 629.0,551.4 631.2,553.5 633.0,556.7 634.7,559.0 636.5,562.0 636.5,548.6 636.9,563.0 639.9,567.5 642.9,573.7 644.7,576.5 646.4,579.2 648.2,582.2 650.0,585.7 651.9,589.0 653.9,592.6 655.9,596.5 657.6,598.9 659.3,601.6 661.0,603.9" fill="none" stroke="#f22222" stroke-width="1.8" stroke-linejoin="round" stroke-linecap="round" />
<text x="489.9" y="452.8" font-size="7.6" fill="#111" text-anchor="start" font-weight="bold" font-family="'Liberation Serif', serif" >1 nM LA</text>
<line x1="507.9" y1="453.1" x2="498.6" y2="461.3" stroke="#111" stroke-width="1.2" />
<polygon points="495.2,464.3 497.1,459.7 500.0,463.0" fill="#111" stroke="none" stroke-width="1" />
<text x="520.2" y="462.5" font-size="7.6" fill="#111" text-anchor="start" font-weight="bold" font-family="'Liberation Serif', serif" >10 nM LA</text>
<line x1="532.3" y1="464.3" x2="522.9" y2="473.0" stroke="#111" stroke-width="1.2" />
<polygon points="519.6,476.0 521.4,471.3 524.4,474.6" fill="#111" stroke="none" stroke-width="1" />
<text x="542.8" y="476.7" font-size="7.6" fill="#111" text-anchor="start" font-weight="bold" font-family="'Liberation Serif', serif" >100 nM LA</text>
<line x1="555.5" y1="477.7" x2="546.8" y2="486.0" stroke="#111" stroke-width="1.2" />
<polygon points="543.5,489.1 545.2,484.4 548.3,487.6" fill="#111" stroke="none" stroke-width="1" />
<text x="567.2" y="488.9" font-size="7.6" fill="#111" text-anchor="start" font-weight="bold" font-family="'Liberation Serif', serif" >1 uM LA</text>
<line x1="578.8" y1="490.8" x2="569.4" y2="499.4" stroke="#111" stroke-width="1.2" />
<polygon points="566.1,502.4 567.9,497.7 570.9,501.0" fill="#111" stroke="none" stroke-width="1" />
<text x="587.7" y="503.0" font-size="7.6" fill="#111" text-anchor="start" font-weight="bold" font-family="'Liberation Serif', serif" >100 uM LA</text>
<line x1="602.6" y1="504.5" x2="593.1" y2="513.5" stroke="#111" stroke-width="1.2" />
<polygon points="589.8,516.6 591.6,511.9 594.6,515.1" fill="#111" stroke="none" stroke-width="1" />
<text x="613.2" y="519.0" font-size="7.6" fill="#111" text-anchor="start" font-weight="bold" font-family="'Liberation Serif', serif" >1 mM LA</text>
<line x1="626.0" y1="520.5" x2="617.0" y2="529.1" stroke="#111" stroke-width="1.2" />
<polygon points="613.7,532.2 615.4,527.5 618.5,530.7" fill="#111" stroke="none" stroke-width="1" />
<text x="630.3" y="542.8" font-size="7.6" fill="#111" text-anchor="start" font-weight="bold" font-family="'Liberation Serif', serif" >100 mM LA</text>
<line x1="650.5" y1="543.5" x2="641.0" y2="552.5" stroke="#111" stroke-width="1.2" />
<polygon points="637.7,555.6 639.5,550.9 642.5,554.1" fill="#111" stroke="none" stroke-width="1" />
<rect x="482.8" y="525.3" width="96.40000000000003" height="77.80000000000007" fill="#fff" stroke="#555" stroke-width="0.6"/>
<line x1="481.0" y1="602.6" x2="482.8" y2="602.6" stroke="#555" stroke-width="0.5" />
<text x="480.9" y="604.3" font-size="5.1" fill="#222" text-anchor="end" font-weight="bold" font-family="'Liberation Serif', serif" >0.00</text>
<line x1="481.0" y1="593.6" x2="482.8" y2="593.6" stroke="#555" stroke-width="0.5" />
<text x="480.9" y="595.3" font-size="5.1" fill="#222" text-anchor="end" font-weight="bold" font-family="'Liberation Serif', serif" >0.05</text>
<line x1="481.0" y1="584.5" x2="482.8" y2="584.5" stroke="#555" stroke-width="0.5" />
<text x="480.9" y="586.2" font-size="5.1" fill="#222" text-anchor="end" font-weight="bold" font-family="'Liberation Serif', serif" >0.10</text>
<line x1="481.0" y1="575.5" x2="482.8" y2="575.5" stroke="#555" stroke-width="0.5" />
<text x="480.9" y="577.2" font-size="5.1" fill="#222" text-anchor="end" font-weight="bold" font-family="'Liberation Serif', serif" >0.15</text>
<line x1="481.0" y1="566.5" x2="482.8" y2="566.5" stroke="#555" stroke-width="0.5" />
<text x="480.9" y="568.2" font-size="5.1" fill="#222" text-anchor="end" font-weight="bold" font-family="'Liberation Serif', serif" >0.20</text>
<line x1="481.0" y1="557.5" x2="482.8" y2="557.5" stroke="#555" stroke-width="0.5" />
<text x="480.9" y="559.2" font-size="5.1" fill="#222" text-anchor="end" font-weight="bold" font-family="'Liberation Serif', serif" >0.25</text>
<line x1="481.0" y1="548.4" x2="482.8" y2="548.4" stroke="#555" stroke-width="0.5" />
<text x="480.9" y="550.1" font-size="5.1" fill="#222" text-anchor="end" font-weight="bold" font-family="'Liberation Serif', serif" >0.30</text>
<line x1="481.0" y1="539.4" x2="482.8" y2="539.4" stroke="#555" stroke-width="0.5" />
<text x="480.9" y="541.1" font-size="5.1" fill="#222" text-anchor="end" font-weight="bold" font-family="'Liberation Serif', serif" >0.35</text>
<line x1="481.0" y1="530.4" x2="482.8" y2="530.4" stroke="#555" stroke-width="0.5" />
<text x="480.9" y="532.1" font-size="5.1" fill="#222" text-anchor="end" font-weight="bold" font-family="'Liberation Serif', serif" >0.40</text>
<line x1="488.5" y1="603.1" x2="488.5" y2="604.9" stroke="#555" stroke-width="0.5" />
<text x="488.5" y="610.0" font-size="5.6" fill="#222" text-anchor="middle" font-weight="bold" font-family="'Liberation Serif', serif" >-9</text>
<line x1="499.9" y1="603.1" x2="499.9" y2="604.9" stroke="#555" stroke-width="0.5" />
<text x="499.9" y="610.0" font-size="5.6" fill="#222" text-anchor="middle" font-weight="bold" font-family="'Liberation Serif', serif" >-8</text>
<line x1="511.3" y1="603.1" x2="511.3" y2="604.9" stroke="#555" stroke-width="0.5" />
<text x="511.3" y="610.0" font-size="5.6" fill="#222" text-anchor="middle" font-weight="bold" font-family="'Liberation Serif', serif" >-7</text>
<line x1="522.7" y1="603.1" x2="522.7" y2="604.9" stroke="#555" stroke-width="0.5" />
<text x="522.7" y="610.0" font-size="5.6" fill="#222" text-anchor="middle" font-weight="bold" font-family="'Liberation Serif', serif" >-6</text>
<line x1="534.1" y1="603.1" x2="534.1" y2="604.9" stroke="#555" stroke-width="0.5" />
<text x="534.1" y="610.0" font-size="5.6" fill="#222" text-anchor="middle" font-weight="bold" font-family="'Liberation Serif', serif" >-5</text>
<line x1="545.5" y1="603.1" x2="545.5" y2="604.9" stroke="#555" stroke-width="0.5" />
<text x="545.5" y="610.0" font-size="5.6" fill="#222" text-anchor="middle" font-weight="bold" font-family="'Liberation Serif', serif" >-4</text>
<line x1="556.8" y1="603.1" x2="556.8" y2="604.9" stroke="#555" stroke-width="0.5" />
<text x="556.8" y="610.0" font-size="5.6" fill="#222" text-anchor="middle" font-weight="bold" font-family="'Liberation Serif', serif" >-3</text>
<line x1="568.2" y1="603.1" x2="568.2" y2="604.9" stroke="#555" stroke-width="0.5" />
<text x="568.2" y="610.0" font-size="5.6" fill="#222" text-anchor="middle" font-weight="bold" font-family="'Liberation Serif', serif" >-2</text>
<line x1="579.6" y1="603.1" x2="579.6" y2="604.9" stroke="#555" stroke-width="0.5" />
<text x="579.6" y="610.0" font-size="5.6" fill="#222" text-anchor="middle" font-weight="bold" font-family="'Liberation Serif', serif" >-1</text>
<text x="531.2" y="617.2" font-size="6.8" fill="#222" text-anchor="middle" font-weight="bold" font-family="'Liberation Serif', serif">log (<tspan font-style="italic">C</tspan><tspan font-style="italic" font-size="4.8" dy="1">LA</tspan><tspan dy="-1">)</tspan></text>
<text transform="translate(468.5,564.2) rotate(-90)" font-size="6.9" fill="#222" text-anchor="middle" font-weight="bold" font-family="'Liberation Serif', serif">NCR</text>
<line x1="488.5" y1="594.5" x2="568.2" y2="538.5" stroke="#f07070" stroke-width="0.8" />
<line x1="488.5" y1="592.4" x2="488.5" y2="596.5" stroke="#2a3ad8" stroke-width="0.5" />
<ellipse cx="488.5" cy="594.5" rx="1.5" ry="1.7" fill="#2a3ad8"/>
<line x1="499.9" y1="586.8" x2="499.9" y2="591.3" stroke="#2a3ad8" stroke-width="0.5" />
<ellipse cx="499.9" cy="589.1" rx="1.5" ry="1.7" fill="#2a3ad8"/>
<line x1="511.3" y1="578.0" x2="511.3" y2="583.9" stroke="#2a3ad8" stroke-width="0.5" />
<ellipse cx="511.3" cy="580.9" rx="1.5" ry="1.7" fill="#2a3ad8"/>
<line x1="522.7" y1="568.4" x2="522.7" y2="573.6" stroke="#2a3ad8" stroke-width="0.5" />
<ellipse cx="522.7" cy="571.0" rx="1.5" ry="1.7" fill="#2a3ad8"/>
<line x1="534.1" y1="559.7" x2="534.1" y2="564.2" stroke="#2a3ad8" stroke-width="0.5" />
<ellipse cx="534.1" cy="562.0" rx="1.5" ry="1.7" fill="#2a3ad8"/>
<line x1="556.8" y1="546.7" x2="556.8" y2="551.9" stroke="#2a3ad8" stroke-width="0.5" />
<ellipse cx="556.8" cy="549.3" rx="1.5" ry="1.7" fill="#2a3ad8"/>
<line x1="568.2" y1="529.4" x2="568.2" y2="536.7" stroke="#2a3ad8" stroke-width="0.5" />
<ellipse cx="568.2" cy="533.1" rx="1.5" ry="1.7" fill="#2a3ad8"/>
</svg></body></html>
